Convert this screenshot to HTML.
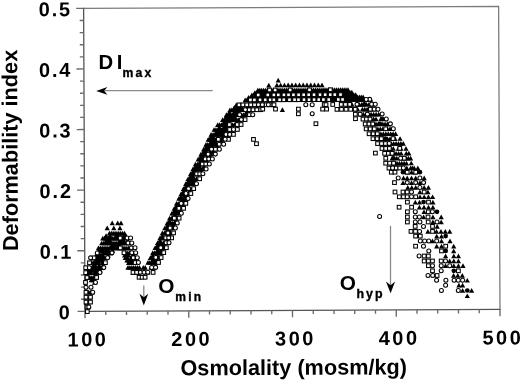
<!DOCTYPE html>
<html><head><meta charset="utf-8"><style>
html,body{margin:0;padding:0;background:#fff;}
svg{display:block;}
.o{fill:#fff;stroke:#000;stroke-width:1.05;}

</style></head><body>
<svg width="520" height="380" viewBox="0 0 520 380">
<g transform="rotate(-0.26 291.8 158.9)">
<path d="M84.3 7.4H499.3V310.4" fill="none" stroke="#7c7c7c" stroke-width="1.3"/>
<path d="M84.3 6.800000000000001V310.4H499.90000000000003" fill="none" stroke="#555" stroke-width="1.3"/>
<path d="M76.90 310.40H84.3 M80.30 298.28H84.3 M80.30 286.16H84.3 M80.30 274.04H84.3 M80.30 261.92H84.3 M76.90 249.80H84.3 M80.30 237.68H84.3 M80.30 225.56H84.3 M80.30 213.44H84.3 M80.30 201.32H84.3 M76.90 189.20H84.3 M80.30 177.08H84.3 M80.30 164.96H84.3 M80.30 152.84H84.3 M80.30 140.72H84.3 M76.90 128.60H84.3 M80.30 116.48H84.3 M80.30 104.36H84.3 M80.30 92.24H84.3 M80.30 80.12H84.3 M76.90 68.00H84.3 M80.30 55.88H84.3 M80.30 43.76H84.3 M80.30 31.64H84.3 M80.30 19.52H84.3 M76.90 7.40H84.3 M84.30 310.4V317.20 M105.05 310.4V314.20 M125.80 310.4V314.20 M146.55 310.4V314.20 M167.30 310.4V314.20 M188.05 310.4V317.20 M208.80 310.4V314.20 M229.55 310.4V314.20 M250.30 310.4V314.20 M271.05 310.4V314.20 M291.80 310.4V317.20 M312.55 310.4V314.20 M333.30 310.4V314.20 M354.05 310.4V314.20 M374.80 310.4V314.20 M395.55 310.4V317.20 M416.30 310.4V314.20 M437.05 310.4V314.20 M457.80 310.4V314.20 M478.55 310.4V314.20 M499.30 310.4V317.20" stroke="#6a6a6a" stroke-width="1.35" fill="none"/>
<text x="71.0" y="318.20" font-family="Liberation Sans, Arial, Helvetica, sans-serif" font-weight="bold" font-size="19.9" letter-spacing="1.9" text-anchor="end">0</text>
<text x="72.7" y="257.60" font-family="Liberation Sans, Arial, Helvetica, sans-serif" font-weight="bold" font-size="19.9" letter-spacing="1.9" text-anchor="end">0.1</text>
<text x="72.7" y="197.00" font-family="Liberation Sans, Arial, Helvetica, sans-serif" font-weight="bold" font-size="19.9" letter-spacing="1.9" text-anchor="end">0.2</text>
<text x="72.7" y="136.40" font-family="Liberation Sans, Arial, Helvetica, sans-serif" font-weight="bold" font-size="19.9" letter-spacing="1.9" text-anchor="end">0.3</text>
<text x="72.7" y="75.80" font-family="Liberation Sans, Arial, Helvetica, sans-serif" font-weight="bold" font-size="19.9" letter-spacing="1.9" text-anchor="end">0.4</text>
<text x="72.7" y="15.20" font-family="Liberation Sans, Arial, Helvetica, sans-serif" font-weight="bold" font-size="19.9" letter-spacing="1.9" text-anchor="end">0.5</text>
<text x="87.10" y="345.4" font-family="Liberation Sans, Arial, Helvetica, sans-serif" font-weight="bold" font-size="20" letter-spacing="2.5" text-anchor="middle">100</text>
<text x="190.85" y="345.4" font-family="Liberation Sans, Arial, Helvetica, sans-serif" font-weight="bold" font-size="20" letter-spacing="2.5" text-anchor="middle">200</text>
<text x="294.60" y="345.4" font-family="Liberation Sans, Arial, Helvetica, sans-serif" font-weight="bold" font-size="20" letter-spacing="2.5" text-anchor="middle">300</text>
<text x="398.35" y="345.4" font-family="Liberation Sans, Arial, Helvetica, sans-serif" font-weight="bold" font-size="20" letter-spacing="2.5" text-anchor="middle">400</text>
<text x="502.10" y="345.4" font-family="Liberation Sans, Arial, Helvetica, sans-serif" font-weight="bold" font-size="20" letter-spacing="2.5" text-anchor="middle">500</text>
<text x="179.5" y="374.8" font-family="Liberation Sans, Arial, Helvetica, sans-serif" font-weight="bold" font-size="21.7">Osmolality (mosm/kg)</text>
<text transform="translate(17.6 249.8) rotate(-90)" font-family="Liberation Sans, Arial, Helvetica, sans-serif" font-weight="bold" font-size="21.7">Deformability index</text>
</g>
<g fill="#000">
<path d="M86.02 309.30L88.62 304.60L91.22 309.30Z"/>
<path d="M83.94 304.39L86.54 299.69L89.14 304.39Z"/>
<path d="M85.70 304.39L88.30 299.69L90.89 304.39Z"/>
<path d="M83.94 299.48L86.54 294.78L89.14 299.48Z"/>
<path d="M87.45 299.46L90.05 294.76L92.65 299.46Z"/>
<path d="M85.95 294.56L88.55 289.86L91.15 294.56Z"/>
<path d="M87.69 294.55L90.29 289.85L92.89 294.55Z"/>
<path d="M89.43 294.54L92.03 289.84L94.63 294.54Z"/>
<path d="M91.90 284.71L94.50 280.01L97.10 284.71Z"/>
<path d="M85.55 279.82L88.15 275.12L90.75 279.82Z"/>
<path d="M87.42 279.81L90.02 275.11L92.62 279.81Z"/>
<path d="M89.30 279.80L91.90 275.10L94.50 279.80Z"/>
<path d="M91.17 279.80L93.77 275.10L96.37 279.80Z"/>
<path d="M93.04 279.79L95.64 275.09L98.24 279.79Z"/>
<path d="M84.80 274.91L87.40 270.21L90.00 274.91Z"/>
<path d="M86.65 274.90L89.25 270.20L91.85 274.90Z"/>
<path d="M88.50 274.90L91.10 270.20L93.70 274.90Z"/>
<path d="M92.19 274.88L94.79 270.18L97.39 274.88Z"/>
<path d="M94.03 274.87L96.63 270.17L99.23 274.87Z"/>
<path d="M95.88 274.86L98.48 270.16L101.08 274.86Z"/>
<path d="M85.27 270.00L87.87 265.30L90.47 270.00Z"/>
<path d="M87.29 269.99L89.89 265.29L92.49 269.99Z"/>
<path d="M89.31 269.98L91.91 265.28L94.51 269.98Z"/>
<path d="M91.32 269.97L93.92 265.27L96.52 269.97Z"/>
<path d="M93.34 269.96L95.94 265.26L98.54 269.96Z"/>
<path d="M95.36 269.95L97.96 265.25L100.56 269.95Z"/>
<path d="M97.37 269.94L99.97 265.24L102.57 269.94Z"/>
<path d="M99.39 269.93L101.99 265.23L104.59 269.93Z"/>
<path d="M88.81 265.07L91.41 260.37L94.01 265.07Z"/>
<path d="M90.58 265.06L93.18 260.36L95.78 265.06Z"/>
<path d="M92.35 265.05L94.95 260.35L97.55 265.05Z"/>
<path d="M94.12 265.04L96.72 260.34L99.32 265.04Z"/>
<path d="M95.89 265.04L98.49 260.34L101.09 265.04Z"/>
<path d="M99.44 265.02L102.04 260.32L104.64 265.02Z"/>
<path d="M101.21 265.01L103.81 260.31L106.41 265.01Z"/>
<path d="M90.04 260.15L92.64 255.45L95.24 260.15Z"/>
<path d="M91.93 260.14L94.53 255.44L97.13 260.14Z"/>
<path d="M93.83 260.13L96.43 255.43L99.03 260.13Z"/>
<path d="M95.72 260.12L98.32 255.42L100.92 260.12Z"/>
<path d="M97.62 260.12L100.22 255.42L102.82 260.12Z"/>
<path d="M99.51 260.11L102.11 255.41L104.71 260.11Z"/>
<path d="M101.41 260.10L104.01 255.40L106.61 260.10Z"/>
<path d="M103.30 260.09L105.90 255.39L108.50 260.09Z"/>
<path d="M96.46 255.21L99.06 250.51L101.66 255.21Z"/>
<path d="M100.29 255.19L102.89 250.49L105.49 255.19Z"/>
<path d="M102.20 255.18L104.80 250.48L107.40 255.18Z"/>
<path d="M104.11 255.17L106.71 250.47L109.31 255.17Z"/>
<path d="M106.02 255.16L108.62 250.46L111.22 255.16Z"/>
<path d="M107.93 255.16L110.53 250.46L113.13 255.16Z"/>
<path d="M95.80 250.30L98.40 245.60L101.00 250.30Z"/>
<path d="M97.69 250.29L100.29 245.59L102.89 250.29Z"/>
<path d="M99.59 250.28L102.19 245.58L104.79 250.28Z"/>
<path d="M101.48 250.27L104.08 245.57L106.68 250.27Z"/>
<path d="M103.38 250.26L105.98 245.56L108.58 250.26Z"/>
<path d="M105.27 250.25L107.87 245.55L110.47 250.25Z"/>
<path d="M107.17 250.25L109.77 245.55L112.37 250.25Z"/>
<path d="M109.06 250.24L111.66 245.54L114.26 250.24Z"/>
<path d="M110.96 250.23L113.56 245.53L116.16 250.23Z"/>
<path d="M112.85 250.22L115.45 245.52L118.05 250.22Z"/>
<path d="M114.75 250.21L117.35 245.51L119.95 250.21Z"/>
<path d="M116.64 250.20L119.24 245.50L121.84 250.20Z"/>
<path d="M118.54 250.19L121.14 245.49L123.74 250.19Z"/>
<path d="M120.43 250.19L123.03 245.49L125.63 250.19Z"/>
<path d="M122.32 250.18L124.92 245.48L127.52 250.18Z"/>
<path d="M124.22 250.17L126.82 245.47L129.42 250.17Z"/>
<path d="M126.11 250.16L128.71 245.46L131.31 250.16Z"/>
<path d="M128.01 250.15L130.61 245.45L133.21 250.15Z"/>
<path d="M99.10 245.37L101.70 240.67L104.30 245.37Z"/>
<path d="M100.99 245.36L103.59 240.66L106.19 245.36Z"/>
<path d="M102.88 245.35L105.48 240.65L108.08 245.35Z"/>
<path d="M104.78 245.34L107.38 240.64L109.98 245.34Z"/>
<path d="M106.67 245.34L109.27 240.64L111.87 245.34Z"/>
<path d="M108.56 245.33L111.16 240.63L113.76 245.33Z"/>
<path d="M110.45 245.32L113.05 240.62L115.65 245.32Z"/>
<path d="M112.34 245.31L114.94 240.61L117.54 245.31Z"/>
<path d="M114.24 245.30L116.84 240.60L119.44 245.30Z"/>
<path d="M116.13 245.29L118.73 240.59L121.33 245.29Z"/>
<path d="M118.02 245.28L120.62 240.58L123.22 245.28Z"/>
<path d="M119.91 245.28L122.51 240.58L125.11 245.28Z"/>
<path d="M121.80 245.27L124.40 240.57L127.00 245.27Z"/>
<path d="M123.70 245.26L126.30 240.56L128.90 245.26Z"/>
<path d="M125.59 245.25L128.19 240.55L130.79 245.25Z"/>
<path d="M100.20 240.45L102.80 235.75L105.40 240.45Z"/>
<path d="M102.08 240.44L104.68 235.74L107.28 240.44Z"/>
<path d="M103.96 240.43L106.56 235.73L109.16 240.43Z"/>
<path d="M105.85 240.43L108.45 235.73L111.05 240.43Z"/>
<path d="M107.73 240.42L110.33 235.72L112.93 240.42Z"/>
<path d="M109.61 240.41L112.21 235.71L114.81 240.41Z"/>
<path d="M111.49 240.40L114.09 235.70L116.69 240.40Z"/>
<path d="M113.37 240.39L115.97 235.69L118.57 240.39Z"/>
<path d="M115.25 240.38L117.85 235.68L120.45 240.38Z"/>
<path d="M117.14 240.38L119.74 235.68L122.34 240.38Z"/>
<path d="M119.02 240.37L121.62 235.67L124.22 240.37Z"/>
<path d="M120.90 240.36L123.50 235.66L126.10 240.36Z"/>
<path d="M122.78 240.35L125.38 235.65L127.98 240.35Z"/>
<path d="M124.66 240.34L127.26 235.64L129.86 240.34Z"/>
<path d="M106.80 235.51L109.40 230.81L112.00 235.51Z"/>
<path d="M108.69 235.50L111.29 230.80L113.89 235.50Z"/>
<path d="M110.58 235.49L113.18 230.79L115.78 235.49Z"/>
<path d="M112.46 235.48L115.06 230.78L117.66 235.48Z"/>
<path d="M114.35 235.47L116.95 230.77L119.55 235.47Z"/>
<path d="M116.24 235.47L118.84 230.77L121.44 235.47Z"/>
<path d="M118.12 235.46L120.72 230.76L123.32 235.46Z"/>
<path d="M120.01 235.45L122.61 230.75L125.21 235.45Z"/>
<path d="M121.90 235.44L124.50 230.74L127.10 235.44Z"/>
<path d="M88.65 282.26L91.25 277.56L93.85 282.26Z"/>
<path d="M90.56 282.26L93.16 277.56L95.76 282.26Z"/>
<path d="M85.18 277.37L87.78 272.67L90.38 277.37Z"/>
<path d="M92.60 277.33L95.20 272.63L97.80 277.33Z"/>
<path d="M85.04 272.45L87.64 267.75L90.24 272.45Z"/>
<path d="M86.84 272.45L89.44 267.75L92.04 272.45Z"/>
<path d="M88.64 272.44L91.24 267.74L93.84 272.44Z"/>
<path d="M90.44 272.43L93.04 267.73L95.64 272.43Z"/>
<path d="M92.24 272.42L94.84 267.72L97.44 272.42Z"/>
<path d="M94.04 272.41L96.64 267.71L99.24 272.41Z"/>
<path d="M95.84 272.41L98.44 267.71L101.04 272.41Z"/>
<path d="M97.64 272.40L100.23 267.70L102.83 272.40Z"/>
<path d="M90.83 267.52L93.43 262.82L96.03 267.52Z"/>
<path d="M92.72 267.51L95.32 262.81L97.92 267.51Z"/>
<path d="M96.51 267.49L99.11 262.79L101.71 267.49Z"/>
<path d="M100.30 267.47L102.90 262.77L105.50 267.47Z"/>
<path d="M93.09 262.59L95.69 257.89L98.29 262.59Z"/>
<path d="M94.92 262.58L97.52 257.88L100.12 262.58Z"/>
<path d="M96.76 262.58L99.36 257.88L101.96 262.58Z"/>
<path d="M98.59 262.57L101.19 257.87L103.79 262.57Z"/>
<path d="M100.42 262.56L103.02 257.86L105.62 262.56Z"/>
<path d="M93.25 257.68L95.85 252.98L98.45 257.68Z"/>
<path d="M95.02 257.67L97.62 252.97L100.22 257.67Z"/>
<path d="M96.78 257.66L99.38 252.96L101.98 257.66Z"/>
<path d="M98.55 257.65L101.15 252.95L103.75 257.65Z"/>
<path d="M100.32 257.65L102.92 252.95L105.52 257.65Z"/>
<path d="M105.62 257.62L108.22 252.92L110.81 257.62Z"/>
<path d="M96.13 252.75L98.73 248.05L101.33 252.75Z"/>
<path d="M98.12 252.74L100.72 248.04L103.32 252.74Z"/>
<path d="M100.10 252.73L102.70 248.03L105.30 252.73Z"/>
<path d="M102.09 252.73L104.69 248.03L107.29 252.73Z"/>
<path d="M104.07 252.72L106.67 248.02L109.27 252.72Z"/>
<path d="M106.06 252.71L108.66 248.01L111.26 252.71Z"/>
<path d="M110.03 252.69L112.63 247.99L115.23 252.69Z"/>
<path d="M109.19 247.78L111.79 243.08L114.39 247.78Z"/>
<path d="M111.15 247.77L113.75 243.07L116.35 247.77Z"/>
<path d="M113.10 247.76L115.70 243.06L118.30 247.76Z"/>
<path d="M115.06 247.75L117.66 243.05L120.26 247.75Z"/>
<path d="M117.02 247.75L119.62 243.05L122.22 247.75Z"/>
<path d="M103.57 242.89L106.17 238.19L108.77 242.89Z"/>
<path d="M105.53 242.88L108.13 238.18L110.73 242.88Z"/>
<path d="M107.49 242.88L110.09 238.18L112.69 242.88Z"/>
<path d="M117.29 242.83L119.89 238.13L122.49 242.83Z"/>
<path d="M119.25 242.82L121.85 238.12L124.45 242.82Z"/>
<path d="M121.21 242.81L123.81 238.11L126.41 242.81Z"/>
<path d="M125.13 242.80L127.73 238.10L130.33 242.80Z"/>
<path d="M103.50 237.98L106.10 233.28L108.70 237.98Z"/>
<path d="M107.46 237.96L110.06 233.26L112.66 237.96Z"/>
<path d="M113.39 237.94L115.99 233.24L118.59 237.94Z"/>
<path d="M115.37 237.93L117.97 233.23L120.57 237.93Z"/>
<path d="M121.30 237.90L123.90 233.20L126.50 237.90Z"/>
<path d="M123.28 237.89L125.88 233.19L128.48 237.89Z"/>
<path d="M104.60 230.21L107.20 225.51L109.80 230.21Z"/>
<path d="M111.20 230.18L113.80 225.48L116.40 230.18Z"/>
<path d="M117.30 230.16L119.90 225.46L122.50 230.16Z"/>
<path d="M109.60 225.29L112.20 220.59L114.80 225.29Z"/>
<path d="M115.10 225.27L117.70 220.57L120.30 225.27Z"/>
<path d="M118.40 225.25L121.00 220.55L123.60 225.25Z"/>
<path d="M123.27 255.09L125.87 250.39L128.47 255.09Z"/>
<path d="M125.14 255.08L127.74 250.38L130.34 255.08Z"/>
<path d="M127.02 255.07L129.62 250.37L132.22 255.07Z"/>
<path d="M128.89 255.06L131.49 250.36L134.09 255.06Z"/>
<path d="M130.76 255.05L133.36 250.35L135.96 255.05Z"/>
<path d="M122.70 260.00L125.30 255.30L127.90 260.00Z"/>
<path d="M124.62 259.99L127.22 255.29L129.82 259.99Z"/>
<path d="M128.46 259.98L131.06 255.28L133.66 259.98Z"/>
<path d="M132.30 259.96L134.90 255.26L137.50 259.96Z"/>
<path d="M126.00 264.90L128.60 260.20L131.20 264.90Z"/>
<path d="M127.96 264.89L130.56 260.19L133.16 264.89Z"/>
<path d="M129.92 264.88L132.52 260.18L135.12 264.88Z"/>
<path d="M131.88 264.87L134.48 260.17L137.08 264.87Z"/>
<path d="M125.40 269.82L128.00 265.12L130.60 269.82Z"/>
<path d="M127.31 269.81L129.91 265.11L132.51 269.81Z"/>
<path d="M129.22 269.80L131.82 265.10L134.42 269.80Z"/>
<path d="M131.13 269.79L133.73 265.09L136.33 269.79Z"/>
<path d="M133.04 269.78L135.64 265.08L138.24 269.78Z"/>
<path d="M134.95 269.77L137.55 265.07L140.15 269.77Z"/>
<path d="M136.86 269.76L139.46 265.06L142.06 269.76Z"/>
<path d="M140.69 269.75L143.29 265.05L145.89 269.75Z"/>
<path d="M142.60 269.74L145.20 265.04L147.80 269.74Z"/>
<path d="M148.33 269.71L150.93 265.01L153.53 269.71Z"/>
<path d="M150.24 269.70L152.84 265.00L155.44 269.70Z"/>
<path d="M130.40 274.71L133.00 270.01L135.60 274.71Z"/>
<path d="M132.87 274.70L135.47 270.00L138.07 274.70Z"/>
<path d="M135.33 274.68L137.93 269.98L140.53 274.68Z"/>
<path d="M145.20 274.64L147.80 269.94L150.40 274.64Z"/>
<path d="M122.05 257.55L124.65 252.85L127.25 257.55Z"/>
<path d="M123.95 257.54L126.55 252.84L129.15 257.54Z"/>
<path d="M125.84 257.53L128.44 252.83L131.04 257.53Z"/>
<path d="M129.63 257.51L132.23 252.81L134.83 257.51Z"/>
<path d="M131.53 257.51L134.13 252.81L136.73 257.51Z"/>
<path d="M124.35 262.45L126.95 257.75L129.55 262.45Z"/>
<path d="M126.09 262.44L128.69 257.74L131.29 262.44Z"/>
<path d="M127.84 262.44L130.44 257.74L133.04 262.44Z"/>
<path d="M129.58 262.43L132.18 257.73L134.78 262.43Z"/>
<path d="M131.33 262.42L133.93 257.72L136.53 262.42Z"/>
<path d="M133.07 262.41L135.67 257.71L138.27 262.41Z"/>
<path d="M145.39 264.81L147.99 260.11L150.59 264.81Z"/>
<path d="M147.28 264.80L149.88 260.10L152.48 264.80Z"/>
<path d="M149.18 264.80L151.78 260.10L154.38 264.80Z"/>
<path d="M151.07 264.79L153.67 260.09L156.27 264.79Z"/>
<path d="M152.96 264.78L155.56 260.08L158.16 264.78Z"/>
<path d="M149.94 262.34L152.54 257.64L155.14 262.34Z"/>
<path d="M152.09 262.33L154.69 257.63L157.29 262.33Z"/>
<path d="M154.24 262.32L156.84 257.62L159.44 262.32Z"/>
<path d="M147.78 259.89L150.38 255.19L152.98 259.89Z"/>
<path d="M149.72 259.88L152.32 255.18L154.92 259.88Z"/>
<path d="M151.65 259.87L154.25 255.17L156.85 259.87Z"/>
<path d="M153.59 259.86L156.19 255.16L158.79 259.86Z"/>
<path d="M155.52 259.85L158.12 255.15L160.72 259.85Z"/>
<path d="M150.18 257.42L152.78 252.72L155.38 257.42Z"/>
<path d="M154.59 257.40L157.19 252.70L159.79 257.40Z"/>
<path d="M150.17 254.97L152.77 250.27L155.37 254.97Z"/>
<path d="M152.15 254.96L154.75 250.26L157.35 254.96Z"/>
<path d="M154.13 254.95L156.73 250.25L159.33 254.95Z"/>
<path d="M156.10 254.94L158.70 250.24L161.30 254.94Z"/>
<path d="M158.08 254.93L160.68 250.23L163.28 254.93Z"/>
<path d="M154.83 252.49L157.43 247.79L160.03 252.49Z"/>
<path d="M157.10 252.48L159.70 247.78L162.30 252.48Z"/>
<path d="M159.36 252.47L161.96 247.77L164.56 252.47Z"/>
<path d="M152.56 250.04L155.16 245.34L157.76 250.04Z"/>
<path d="M154.58 250.03L157.18 245.33L159.78 250.03Z"/>
<path d="M156.60 250.02L159.20 245.32L161.80 250.02Z"/>
<path d="M158.62 250.01L161.22 245.31L163.82 250.01Z"/>
<path d="M160.64 250.01L163.24 245.31L165.84 250.01Z"/>
<path d="M154.96 247.57L157.56 242.87L160.16 247.57Z"/>
<path d="M157.28 247.56L159.88 242.86L162.48 247.56Z"/>
<path d="M159.60 247.55L162.20 242.85L164.80 247.55Z"/>
<path d="M161.92 247.54L164.52 242.84L167.12 247.54Z"/>
<path d="M154.95 245.12L157.55 240.42L160.15 245.12Z"/>
<path d="M157.02 245.11L159.62 240.41L162.22 245.11Z"/>
<path d="M159.08 245.10L161.68 240.40L164.28 245.10Z"/>
<path d="M161.14 245.09L163.74 240.39L166.34 245.09Z"/>
<path d="M163.20 245.08L165.80 240.38L168.40 245.08Z"/>
<path d="M157.35 242.65L159.95 237.95L162.55 242.65Z"/>
<path d="M164.48 242.62L167.08 237.92L169.68 242.62Z"/>
<path d="M157.35 240.19L159.95 235.49L162.55 240.19Z"/>
<path d="M159.45 240.18L162.05 235.48L164.65 240.18Z"/>
<path d="M161.55 240.18L164.15 235.48L166.75 240.18Z"/>
<path d="M163.66 240.17L166.26 235.47L168.86 240.17Z"/>
<path d="M165.76 240.16L168.36 235.46L170.96 240.16Z"/>
<path d="M159.75 237.73L162.35 233.03L164.95 237.73Z"/>
<path d="M164.44 237.71L167.04 233.01L169.64 237.71Z"/>
<path d="M166.78 237.70L169.38 233.00L171.98 237.70Z"/>
<path d="M159.75 235.27L162.35 230.57L164.95 235.27Z"/>
<path d="M161.77 235.26L164.37 230.56L166.97 235.26Z"/>
<path d="M163.78 235.25L166.38 230.55L168.98 235.25Z"/>
<path d="M165.79 235.24L168.39 230.54L170.99 235.24Z"/>
<path d="M167.81 235.23L170.41 230.53L173.01 235.23Z"/>
<path d="M164.37 232.79L166.97 228.09L169.57 232.79Z"/>
<path d="M166.59 232.78L169.19 228.08L171.79 232.78Z"/>
<path d="M162.16 230.35L164.76 225.65L167.36 230.35Z"/>
<path d="M164.07 230.34L166.67 225.64L169.27 230.34Z"/>
<path d="M165.99 230.33L168.59 225.63L171.19 230.33Z"/>
<path d="M167.91 230.32L170.51 225.62L173.11 230.32Z"/>
<path d="M169.82 230.31L172.42 225.61L175.02 230.31Z"/>
<path d="M164.56 227.88L167.16 223.18L169.76 227.88Z"/>
<path d="M170.83 227.85L173.43 223.15L176.03 227.85Z"/>
<path d="M164.56 225.42L167.16 220.72L169.76 225.42Z"/>
<path d="M166.38 225.41L168.98 220.71L171.58 225.41Z"/>
<path d="M168.20 225.41L170.80 220.71L173.40 225.41Z"/>
<path d="M170.02 225.40L172.62 220.70L175.22 225.40Z"/>
<path d="M171.84 225.39L174.44 220.69L177.04 225.39Z"/>
<path d="M166.97 222.96L169.57 218.26L172.17 222.96Z"/>
<path d="M172.84 222.93L175.44 218.23L178.04 222.93Z"/>
<path d="M166.97 220.50L169.57 215.80L172.17 220.50Z"/>
<path d="M168.69 220.49L171.29 215.79L173.89 220.49Z"/>
<path d="M170.41 220.48L173.01 215.78L175.61 220.48Z"/>
<path d="M172.13 220.48L174.73 215.78L177.33 220.48Z"/>
<path d="M173.85 220.47L176.45 215.77L179.05 220.47Z"/>
<path d="M172.15 218.02L174.75 213.32L177.35 218.02Z"/>
<path d="M169.30 215.58L171.90 210.88L174.50 215.58Z"/>
<path d="M171.00 215.57L173.60 210.87L176.20 215.57Z"/>
<path d="M172.69 215.56L175.29 210.86L177.89 215.56Z"/>
<path d="M174.39 215.55L176.99 210.85L179.59 215.55Z"/>
<path d="M176.09 215.54L178.69 210.84L181.29 215.54Z"/>
<path d="M171.66 213.11L174.26 208.41L176.86 213.11Z"/>
<path d="M174.44 213.10L177.04 208.40L179.64 213.10Z"/>
<path d="M177.22 213.08L179.82 208.38L182.42 213.08Z"/>
<path d="M171.62 210.65L174.22 205.95L176.82 210.65Z"/>
<path d="M173.30 210.64L175.90 205.94L178.50 210.64Z"/>
<path d="M174.99 210.64L177.59 205.94L180.19 210.64Z"/>
<path d="M176.67 210.63L179.27 205.93L181.87 210.63Z"/>
<path d="M178.36 210.62L180.96 205.92L183.56 210.62Z"/>
<path d="M173.98 208.18L176.58 203.48L179.18 208.18Z"/>
<path d="M176.73 208.17L179.33 203.47L181.93 208.17Z"/>
<path d="M179.49 208.16L182.09 203.46L184.69 208.16Z"/>
<path d="M173.94 205.73L176.54 201.03L179.14 205.73Z"/>
<path d="M175.61 205.72L178.21 201.02L180.81 205.72Z"/>
<path d="M177.28 205.71L179.88 201.01L182.48 205.71Z"/>
<path d="M178.95 205.71L181.55 201.01L184.15 205.71Z"/>
<path d="M180.62 205.70L183.22 201.00L185.82 205.70Z"/>
<path d="M179.03 203.25L181.63 198.55L184.23 203.25Z"/>
<path d="M181.75 203.24L184.35 198.54L186.95 203.24Z"/>
<path d="M176.26 200.81L178.86 196.11L181.46 200.81Z"/>
<path d="M178.47 200.80L181.07 196.10L183.67 200.80Z"/>
<path d="M180.68 200.79L183.28 196.09L185.88 200.79Z"/>
<path d="M182.89 200.78L185.49 196.08L188.09 200.78Z"/>
<path d="M178.61 198.34L181.21 193.64L183.81 198.34Z"/>
<path d="M181.41 198.33L184.01 193.63L186.61 198.33Z"/>
<path d="M184.20 198.31L186.80 193.61L189.40 198.31Z"/>
<path d="M178.57 195.88L181.17 191.18L183.77 195.88Z"/>
<path d="M180.31 195.87L182.91 191.17L185.51 195.87Z"/>
<path d="M182.04 195.87L184.64 191.17L187.24 195.87Z"/>
<path d="M183.78 195.86L186.38 191.16L188.98 195.86Z"/>
<path d="M185.52 195.85L188.12 191.15L190.72 195.85Z"/>
<path d="M180.92 193.41L183.52 188.71L186.12 193.41Z"/>
<path d="M186.86 193.39L189.46 188.69L192.06 193.39Z"/>
<path d="M180.87 190.96L183.47 186.26L186.07 190.96Z"/>
<path d="M182.71 190.95L185.31 186.25L187.91 190.95Z"/>
<path d="M184.54 190.94L187.14 186.24L189.74 190.94Z"/>
<path d="M186.37 190.93L188.97 186.23L191.57 190.93Z"/>
<path d="M188.20 190.93L190.80 186.23L193.40 190.93Z"/>
<path d="M183.23 188.49L185.83 183.79L188.43 188.49Z"/>
<path d="M185.33 188.48L187.93 183.78L190.53 188.48Z"/>
<path d="M183.18 186.03L185.78 181.33L188.38 186.03Z"/>
<path d="M185.11 186.03L187.71 181.33L190.31 186.03Z"/>
<path d="M187.03 186.02L189.63 181.32L192.23 186.02Z"/>
<path d="M188.95 186.01L191.55 181.31L194.15 186.01Z"/>
<path d="M190.88 186.00L193.48 181.30L196.08 186.00Z"/>
<path d="M185.54 183.57L188.14 178.87L190.74 183.57Z"/>
<path d="M187.80 183.56L190.40 178.86L193.00 183.56Z"/>
<path d="M190.07 183.55L192.67 178.85L195.27 183.55Z"/>
<path d="M192.34 183.54L194.94 178.84L197.54 183.54Z"/>
<path d="M185.49 181.11L188.09 176.41L190.69 181.11Z"/>
<path d="M187.57 181.10L190.17 176.40L192.77 181.10Z"/>
<path d="M189.65 181.09L192.25 176.39L194.85 181.09Z"/>
<path d="M191.73 181.08L194.33 176.38L196.93 181.08Z"/>
<path d="M193.81 181.07L196.41 176.37L199.01 181.07Z"/>
<path d="M187.91 178.64L190.51 173.94L193.11 178.64Z"/>
<path d="M190.38 178.63L192.98 173.93L195.58 178.63Z"/>
<path d="M187.93 176.19L190.53 171.49L193.13 176.19Z"/>
<path d="M189.70 176.18L192.30 171.48L194.90 176.18Z"/>
<path d="M191.48 176.17L194.08 171.47L196.68 176.17Z"/>
<path d="M193.26 176.16L195.86 171.46L198.46 176.16Z"/>
<path d="M195.04 176.16L197.64 171.46L200.24 176.16Z"/>
<path d="M196.82 176.15L199.42 171.45L202.02 176.15Z"/>
<path d="M190.35 173.72L192.95 169.02L195.55 173.72Z"/>
<path d="M193.01 173.71L195.61 169.01L198.21 173.71Z"/>
<path d="M198.32 173.68L200.92 168.98L203.52 173.68Z"/>
<path d="M190.38 171.26L192.98 166.56L195.58 171.26Z"/>
<path d="M192.27 171.26L194.87 166.56L197.47 171.26Z"/>
<path d="M194.16 171.25L196.76 166.55L199.36 171.25Z"/>
<path d="M196.05 171.24L198.65 166.54L201.25 171.24Z"/>
<path d="M197.94 171.23L200.54 166.53L203.14 171.23Z"/>
<path d="M199.83 171.22L202.43 166.52L205.03 171.22Z"/>
<path d="M192.81 168.80L195.41 164.10L198.01 168.80Z"/>
<path d="M194.94 168.79L197.54 164.09L200.14 168.79Z"/>
<path d="M197.07 168.78L199.67 164.08L202.27 168.78Z"/>
<path d="M201.33 168.76L203.93 164.06L206.53 168.76Z"/>
<path d="M192.84 166.34L195.44 161.64L198.04 166.34Z"/>
<path d="M194.84 166.33L197.44 161.63L200.04 166.33Z"/>
<path d="M196.84 166.32L199.44 161.62L202.04 166.32Z"/>
<path d="M198.84 166.31L201.44 161.61L204.04 166.31Z"/>
<path d="M200.84 166.30L203.44 161.60L206.04 166.30Z"/>
<path d="M202.84 166.29L205.44 161.59L208.04 166.29Z"/>
<path d="M197.62 163.86L200.22 159.16L202.82 163.86Z"/>
<path d="M199.85 163.85L202.45 159.15L205.05 163.85Z"/>
<path d="M202.07 163.84L204.67 159.14L207.27 163.84Z"/>
<path d="M204.30 163.83L206.90 159.13L209.50 163.83Z"/>
<path d="M195.55 161.41L198.15 156.71L200.75 161.41Z"/>
<path d="M197.59 161.41L200.19 156.71L202.79 161.41Z"/>
<path d="M199.64 161.40L202.24 156.70L204.84 161.40Z"/>
<path d="M201.68 161.39L204.28 156.69L206.88 161.39Z"/>
<path d="M203.72 161.38L206.32 156.68L208.92 161.38Z"/>
<path d="M205.77 161.37L208.37 156.67L210.97 161.37Z"/>
<path d="M198.13 158.95L200.73 154.25L203.33 158.95Z"/>
<path d="M200.40 158.94L203.00 154.24L205.60 158.94Z"/>
<path d="M204.95 158.92L207.55 154.22L210.15 158.92Z"/>
<path d="M207.22 158.91L209.82 154.21L212.42 158.91Z"/>
<path d="M198.31 156.49L200.91 151.79L203.51 156.49Z"/>
<path d="M200.38 156.48L202.98 151.78L205.58 156.48Z"/>
<path d="M202.46 156.47L205.06 151.77L207.66 156.47Z"/>
<path d="M204.53 156.46L207.13 151.76L209.73 156.46Z"/>
<path d="M206.61 156.45L209.21 151.75L211.81 156.45Z"/>
<path d="M208.68 156.44L211.28 151.74L213.88 156.44Z"/>
<path d="M200.88 154.02L203.48 149.32L206.08 154.02Z"/>
<path d="M203.29 154.01L205.89 149.31L208.49 154.01Z"/>
<path d="M208.12 153.99L210.72 149.29L213.32 153.99Z"/>
<path d="M210.53 153.98L213.13 149.28L215.73 153.98Z"/>
<path d="M201.06 151.56L203.66 146.86L206.26 151.56Z"/>
<path d="M202.95 151.56L205.55 146.86L208.15 151.56Z"/>
<path d="M204.83 151.55L207.43 146.85L210.03 151.55Z"/>
<path d="M206.72 151.54L209.32 146.84L211.92 151.54Z"/>
<path d="M208.60 151.53L211.20 146.83L213.80 151.53Z"/>
<path d="M210.49 151.52L213.09 146.82L215.69 151.52Z"/>
<path d="M212.37 151.51L214.97 146.81L217.57 151.51Z"/>
<path d="M203.42 149.10L206.02 144.40L208.62 149.10Z"/>
<path d="M205.58 149.09L208.18 144.39L210.78 149.09Z"/>
<path d="M207.74 149.08L210.34 144.38L212.94 149.08Z"/>
<path d="M209.91 149.07L212.51 144.37L215.11 149.07Z"/>
<path d="M214.23 149.05L216.83 144.35L219.43 149.05Z"/>
<path d="M203.38 146.64L205.98 141.94L208.58 146.64Z"/>
<path d="M205.19 146.63L207.79 141.93L210.39 146.63Z"/>
<path d="M207.01 146.62L209.61 141.92L212.21 146.62Z"/>
<path d="M208.82 146.62L211.42 141.92L214.02 146.62Z"/>
<path d="M210.64 146.61L213.24 141.91L215.84 146.61Z"/>
<path d="M212.46 146.60L215.06 141.90L217.66 146.60Z"/>
<path d="M214.27 146.59L216.87 141.89L219.47 146.59Z"/>
<path d="M216.09 146.58L218.69 141.88L221.29 146.58Z"/>
<path d="M208.18 144.16L210.78 139.46L213.38 144.16Z"/>
<path d="M210.68 144.15L213.28 139.45L215.88 144.15Z"/>
<path d="M213.17 144.14L215.77 139.44L218.37 144.14Z"/>
<path d="M218.15 144.12L220.75 139.42L223.35 144.12Z"/>
<path d="M205.61 141.72L208.21 137.02L210.81 141.72Z"/>
<path d="M207.43 141.71L210.03 137.01L212.63 141.71Z"/>
<path d="M209.26 141.70L211.86 137.00L214.46 141.70Z"/>
<path d="M211.08 141.69L213.68 136.99L216.28 141.69Z"/>
<path d="M212.91 141.68L215.51 136.98L218.11 141.68Z"/>
<path d="M214.73 141.68L217.33 136.98L219.93 141.68Z"/>
<path d="M216.56 141.67L219.16 136.97L221.76 141.67Z"/>
<path d="M218.38 141.66L220.98 136.96L223.58 141.66Z"/>
<path d="M220.21 141.65L222.81 136.95L225.41 141.65Z"/>
<path d="M208.25 139.25L210.85 134.55L213.45 139.25Z"/>
<path d="M210.60 139.24L213.20 134.54L215.80 139.24Z"/>
<path d="M220.04 139.20L222.64 134.50L225.24 139.20Z"/>
<path d="M208.48 136.79L211.08 132.09L213.68 136.79Z"/>
<path d="M210.50 136.78L213.10 132.08L215.70 136.78Z"/>
<path d="M212.51 136.77L215.11 132.07L217.71 136.77Z"/>
<path d="M214.52 136.76L217.12 132.06L219.72 136.76Z"/>
<path d="M216.53 136.75L219.13 132.05L221.73 136.75Z"/>
<path d="M218.55 136.75L221.15 132.05L223.75 136.75Z"/>
<path d="M220.56 136.74L223.16 132.04L225.76 136.74Z"/>
<path d="M222.57 136.73L225.17 132.03L227.77 136.73Z"/>
<path d="M224.58 136.72L227.18 132.02L229.78 136.72Z"/>
<path d="M213.73 134.31L216.33 129.61L218.93 134.31Z"/>
<path d="M216.27 134.30L218.87 129.60L221.47 134.30Z"/>
<path d="M218.80 134.29L221.40 129.59L224.00 134.29Z"/>
<path d="M221.34 134.28L223.94 129.58L226.54 134.28Z"/>
<path d="M226.42 134.25L229.02 129.55L231.62 134.25Z"/>
<path d="M211.49 131.86L214.09 127.16L216.69 131.86Z"/>
<path d="M213.35 131.86L215.95 127.16L218.55 131.86Z"/>
<path d="M215.22 131.85L217.82 127.15L220.42 131.85Z"/>
<path d="M217.08 131.84L219.68 127.14L222.28 131.84Z"/>
<path d="M218.94 131.83L221.54 127.13L224.14 131.83Z"/>
<path d="M220.81 131.82L223.41 127.12L226.01 131.82Z"/>
<path d="M222.67 131.81L225.27 127.11L227.87 131.81Z"/>
<path d="M224.53 131.81L227.13 127.11L229.73 131.81Z"/>
<path d="M226.40 131.80L229.00 127.10L231.60 131.80Z"/>
<path d="M228.26 131.79L230.86 127.09L233.46 131.79Z"/>
<path d="M216.73 129.38L219.33 124.68L221.93 129.38Z"/>
<path d="M221.19 129.36L223.79 124.66L226.39 129.36Z"/>
<path d="M223.42 129.35L226.02 124.65L228.62 129.35Z"/>
<path d="M225.65 129.34L228.25 124.64L230.85 129.34Z"/>
<path d="M227.88 129.33L230.48 124.63L233.08 129.33Z"/>
<path d="M215.10 126.94L217.70 122.24L220.30 126.94Z"/>
<path d="M216.97 126.93L219.57 122.23L222.17 126.93Z"/>
<path d="M218.85 126.92L221.45 122.22L224.05 126.92Z"/>
<path d="M220.72 126.91L223.32 122.21L225.92 126.91Z"/>
<path d="M222.59 126.90L225.19 122.20L227.79 126.90Z"/>
<path d="M224.46 126.89L227.06 122.19L229.66 126.89Z"/>
<path d="M226.33 126.88L228.93 122.18L231.53 126.88Z"/>
<path d="M228.21 126.88L230.81 122.18L233.41 126.88Z"/>
<path d="M230.08 126.87L232.68 122.17L235.28 126.87Z"/>
<path d="M231.95 126.86L234.55 122.16L237.15 126.86Z"/>
<path d="M221.32 124.45L223.92 119.75L226.52 124.45Z"/>
<path d="M223.87 124.44L226.47 119.74L229.07 124.44Z"/>
<path d="M226.42 124.43L229.02 119.73L231.62 124.43Z"/>
<path d="M234.07 124.39L236.67 119.69L239.27 124.39Z"/>
<path d="M220.04 122.00L222.64 117.30L225.24 122.00Z"/>
<path d="M222.06 121.99L224.66 117.29L227.26 121.99Z"/>
<path d="M224.07 121.98L226.67 117.28L229.27 121.98Z"/>
<path d="M226.09 121.97L228.69 117.27L231.29 121.97Z"/>
<path d="M228.11 121.96L230.71 117.26L233.31 121.96Z"/>
<path d="M230.13 121.95L232.73 117.25L235.33 121.95Z"/>
<path d="M232.15 121.95L234.75 117.25L237.35 121.95Z"/>
<path d="M234.16 121.94L236.76 117.24L239.36 121.94Z"/>
<path d="M236.18 121.93L238.78 117.23L241.38 121.93Z"/>
<path d="M223.15 119.53L225.75 114.83L228.35 119.53Z"/>
<path d="M225.48 119.52L228.08 114.82L230.68 119.52Z"/>
<path d="M227.82 119.51L230.42 114.81L233.02 119.51Z"/>
<path d="M230.15 119.50L232.75 114.80L235.35 119.50Z"/>
<path d="M232.49 119.49L235.09 114.79L237.69 119.49Z"/>
<path d="M239.49 119.46L242.09 114.76L244.69 119.46Z"/>
<path d="M223.86 117.07L226.46 112.37L229.06 117.07Z"/>
<path d="M225.75 117.06L228.35 112.36L230.95 117.06Z"/>
<path d="M227.65 117.05L230.25 112.35L232.85 117.05Z"/>
<path d="M229.54 117.04L232.14 112.34L234.74 117.04Z"/>
<path d="M231.43 117.04L234.03 112.34L236.63 117.04Z"/>
<path d="M233.33 117.03L235.93 112.33L238.53 117.03Z"/>
<path d="M235.22 117.02L237.82 112.32L240.42 117.02Z"/>
<path d="M237.11 117.01L239.71 112.31L242.31 117.01Z"/>
<path d="M239.00 117.00L241.60 112.30L244.20 117.00Z"/>
<path d="M240.90 116.99L243.50 112.29L246.10 116.99Z"/>
<path d="M242.79 116.98L245.39 112.28L247.99 116.98Z"/>
<path d="M226.79 114.60L229.39 109.90L231.99 114.60Z"/>
<path d="M231.63 114.58L234.23 109.88L236.83 114.58Z"/>
<path d="M234.05 114.57L236.65 109.87L239.25 114.57Z"/>
<path d="M236.47 114.56L239.07 109.86L241.67 114.56Z"/>
<path d="M243.73 114.52L246.33 109.82L248.93 114.52Z"/>
<path d="M246.15 114.51L248.75 109.81L251.35 114.51Z"/>
<path d="M227.31 112.14L229.91 107.44L232.51 112.14Z"/>
<path d="M229.16 112.13L231.76 107.43L234.36 112.13Z"/>
<path d="M231.01 112.12L233.61 107.42L236.21 112.12Z"/>
<path d="M232.86 112.12L235.46 107.42L238.06 112.12Z"/>
<path d="M234.71 112.11L237.31 107.41L239.91 112.11Z"/>
<path d="M236.56 112.10L239.16 107.40L241.76 112.10Z"/>
<path d="M238.41 112.09L241.01 107.39L243.61 112.09Z"/>
<path d="M240.26 112.08L242.86 107.38L245.46 112.08Z"/>
<path d="M242.11 112.07L244.71 107.37L247.31 112.07Z"/>
<path d="M243.96 112.07L246.56 107.37L249.16 112.07Z"/>
<path d="M245.80 112.06L248.40 107.36L251.00 112.06Z"/>
<path d="M247.65 112.05L250.25 107.35L252.85 112.05Z"/>
<path d="M249.50 112.04L252.10 107.34L254.70 112.04Z"/>
<path d="M231.67 109.67L234.27 104.97L236.87 109.67Z"/>
<path d="M234.19 109.65L236.79 104.95L239.39 109.65Z"/>
<path d="M236.72 109.64L239.32 104.94L241.92 109.64Z"/>
<path d="M239.25 109.63L241.85 104.93L244.45 109.63Z"/>
<path d="M244.31 109.61L246.91 104.91L249.51 109.61Z"/>
<path d="M246.83 109.60L249.43 104.90L252.03 109.60Z"/>
<path d="M254.42 109.56L257.02 104.86L259.62 109.56Z"/>
<path d="M233.62 107.20L236.22 102.50L238.82 107.20Z"/>
<path d="M235.46 107.19L238.06 102.49L240.66 107.19Z"/>
<path d="M237.29 107.18L239.89 102.48L242.49 107.18Z"/>
<path d="M239.13 107.18L241.73 102.48L244.33 107.18Z"/>
<path d="M240.97 107.17L243.57 102.47L246.17 107.17Z"/>
<path d="M242.80 107.16L245.40 102.46L248.00 107.16Z"/>
<path d="M244.64 107.15L247.24 102.45L249.84 107.15Z"/>
<path d="M246.48 107.14L249.08 102.44L251.68 107.14Z"/>
<path d="M248.31 107.13L250.91 102.43L253.51 107.13Z"/>
<path d="M250.15 107.13L252.75 102.43L255.35 107.13Z"/>
<path d="M251.99 107.12L254.59 102.42L257.19 107.12Z"/>
<path d="M253.82 107.11L256.42 102.41L259.02 107.11Z"/>
<path d="M255.66 107.10L258.26 102.40L260.86 107.10Z"/>
<path d="M257.50 107.09L260.10 102.39L262.70 107.09Z"/>
<path d="M259.33 107.08L261.93 102.38L264.53 107.08Z"/>
<path d="M242.60 102.25L245.20 97.55L247.80 102.25Z"/>
<path d="M244.50 102.24L247.10 97.54L249.70 102.24Z"/>
<path d="M246.40 102.23L249.00 97.53L251.60 102.23Z"/>
<path d="M248.30 102.22L250.90 97.52L253.50 102.22Z"/>
<path d="M250.21 102.21L252.81 97.51L255.41 102.21Z"/>
<path d="M252.11 102.20L254.71 97.50L257.31 102.20Z"/>
<path d="M254.01 102.20L256.61 97.50L259.21 102.20Z"/>
<path d="M255.91 102.19L258.51 97.49L261.11 102.19Z"/>
<path d="M257.81 102.18L260.41 97.48L263.01 102.18Z"/>
<path d="M259.71 102.17L262.31 97.47L264.91 102.17Z"/>
<path d="M261.62 102.16L264.22 97.46L266.82 102.16Z"/>
<path d="M263.52 102.15L266.12 97.45L268.72 102.15Z"/>
<path d="M265.42 102.14L268.02 97.44L270.62 102.14Z"/>
<path d="M267.32 102.14L269.92 97.44L272.52 102.14Z"/>
<path d="M269.22 102.13L271.82 97.43L274.42 102.13Z"/>
<path d="M271.12 102.12L273.72 97.42L276.32 102.12Z"/>
<path d="M273.02 102.11L275.62 97.41L278.22 102.11Z"/>
<path d="M274.93 102.10L277.53 97.40L280.13 102.10Z"/>
<path d="M276.83 102.09L279.43 97.39L282.03 102.09Z"/>
<path d="M278.73 102.08L281.33 97.38L283.93 102.08Z"/>
<path d="M280.63 102.08L283.23 97.38L285.83 102.08Z"/>
<path d="M282.53 102.07L285.13 97.37L287.73 102.07Z"/>
<path d="M284.43 102.06L287.03 97.36L289.63 102.06Z"/>
<path d="M286.33 102.05L288.93 97.35L291.53 102.05Z"/>
<path d="M288.24 102.04L290.84 97.34L293.44 102.04Z"/>
<path d="M290.14 102.03L292.74 97.33L295.34 102.03Z"/>
<path d="M292.04 102.02L294.64 97.32L297.24 102.02Z"/>
<path d="M293.94 102.02L296.54 97.32L299.14 102.02Z"/>
<path d="M295.84 102.01L298.44 97.31L301.04 102.01Z"/>
<path d="M297.74 102.00L300.34 97.30L302.94 102.00Z"/>
<path d="M299.65 101.99L302.25 97.29L304.85 101.99Z"/>
<path d="M301.55 101.98L304.15 97.28L306.75 101.98Z"/>
<path d="M303.45 101.97L306.05 97.27L308.65 101.97Z"/>
<path d="M305.35 101.96L307.95 97.26L310.55 101.96Z"/>
<path d="M307.25 101.96L309.85 97.26L312.45 101.96Z"/>
<path d="M309.15 101.95L311.75 97.25L314.35 101.95Z"/>
<path d="M311.05 101.94L313.65 97.24L316.25 101.94Z"/>
<path d="M312.96 101.93L315.56 97.23L318.16 101.93Z"/>
<path d="M314.86 101.92L317.46 97.22L320.06 101.92Z"/>
<path d="M316.76 101.91L319.36 97.21L321.96 101.91Z"/>
<path d="M318.66 101.90L321.26 97.20L323.86 101.90Z"/>
<path d="M320.56 101.90L323.16 97.20L325.76 101.90Z"/>
<path d="M322.46 101.89L325.06 97.19L327.66 101.89Z"/>
<path d="M324.37 101.88L326.97 97.18L329.57 101.88Z"/>
<path d="M326.27 101.87L328.87 97.17L331.47 101.87Z"/>
<path d="M328.17 101.86L330.77 97.16L333.37 101.86Z"/>
<path d="M330.07 101.85L332.67 97.15L335.27 101.85Z"/>
<path d="M331.97 101.84L334.57 97.14L337.17 101.84Z"/>
<path d="M333.87 101.84L336.47 97.14L339.07 101.84Z"/>
<path d="M335.77 101.83L338.37 97.13L340.97 101.83Z"/>
<path d="M337.68 101.82L340.28 97.12L342.88 101.82Z"/>
<path d="M339.58 101.81L342.18 97.11L344.78 101.81Z"/>
<path d="M341.48 101.80L344.08 97.10L346.68 101.80Z"/>
<path d="M343.38 101.79L345.98 97.09L348.58 101.79Z"/>
<path d="M345.28 101.78L347.88 97.08L350.48 101.78Z"/>
<path d="M347.18 101.78L349.78 97.08L352.38 101.78Z"/>
<path d="M349.08 101.77L351.68 97.07L354.28 101.77Z"/>
<path d="M350.99 101.76L353.59 97.06L356.19 101.76Z"/>
<path d="M352.89 101.75L355.49 97.05L358.09 101.75Z"/>
<path d="M354.79 101.74L357.39 97.04L359.99 101.74Z"/>
<path d="M356.69 101.73L359.29 97.03L361.89 101.73Z"/>
<path d="M358.59 101.72L361.19 97.02L363.79 101.72Z"/>
<path d="M360.49 101.72L363.09 97.02L365.69 101.72Z"/>
<path d="M362.40 101.71L365.00 97.01L367.60 101.71Z"/>
<path d="M364.30 101.70L366.90 97.00L369.50 101.70Z"/>
<path d="M366.20 101.69L368.80 96.99L371.40 101.69Z"/>
<path d="M368.10 101.68L370.70 96.98L373.30 101.68Z"/>
<path d="M245.95 99.78L248.55 95.08L251.15 99.78Z"/>
<path d="M247.86 99.77L250.46 95.07L253.06 99.77Z"/>
<path d="M249.77 99.76L252.37 95.06L254.97 99.76Z"/>
<path d="M251.68 99.75L254.28 95.05L256.88 99.75Z"/>
<path d="M253.59 99.74L256.19 95.04L258.79 99.74Z"/>
<path d="M255.50 99.73L258.10 95.03L260.70 99.73Z"/>
<path d="M257.41 99.72L260.01 95.02L262.61 99.72Z"/>
<path d="M259.32 99.71L261.92 95.01L264.52 99.71Z"/>
<path d="M261.23 99.71L263.83 95.01L266.43 99.71Z"/>
<path d="M263.14 99.70L265.74 95.00L268.34 99.70Z"/>
<path d="M265.05 99.69L267.65 94.99L270.25 99.69Z"/>
<path d="M266.96 99.68L269.56 94.98L272.16 99.68Z"/>
<path d="M268.87 99.67L271.47 94.97L274.07 99.67Z"/>
<path d="M270.78 99.66L273.38 94.96L275.98 99.66Z"/>
<path d="M272.69 99.65L275.29 94.95L277.89 99.65Z"/>
<path d="M274.60 99.65L277.20 94.95L279.80 99.65Z"/>
<path d="M276.51 99.64L279.11 94.94L281.71 99.64Z"/>
<path d="M278.42 99.63L281.02 94.93L283.62 99.63Z"/>
<path d="M280.33 99.62L282.93 94.92L285.53 99.62Z"/>
<path d="M282.24 99.61L284.84 94.91L287.44 99.61Z"/>
<path d="M284.15 99.60L286.75 94.90L289.35 99.60Z"/>
<path d="M286.06 99.59L288.66 94.89L291.26 99.59Z"/>
<path d="M287.97 99.59L290.57 94.89L293.17 99.59Z"/>
<path d="M289.88 99.58L292.48 94.88L295.08 99.58Z"/>
<path d="M291.79 99.57L294.39 94.87L296.99 99.57Z"/>
<path d="M293.70 99.56L296.30 94.86L298.90 99.56Z"/>
<path d="M295.61 99.55L298.21 94.85L300.81 99.55Z"/>
<path d="M297.52 99.54L300.12 94.84L302.72 99.54Z"/>
<path d="M299.43 99.53L302.03 94.83L304.63 99.53Z"/>
<path d="M301.34 99.53L303.94 94.83L306.54 99.53Z"/>
<path d="M303.25 99.52L305.85 94.82L308.45 99.52Z"/>
<path d="M305.16 99.51L307.76 94.81L310.36 99.51Z"/>
<path d="M307.07 99.50L309.67 94.80L312.27 99.50Z"/>
<path d="M308.98 99.49L311.58 94.79L314.18 99.49Z"/>
<path d="M310.89 99.48L313.49 94.78L316.09 99.48Z"/>
<path d="M312.80 99.47L315.40 94.77L318.00 99.47Z"/>
<path d="M314.71 99.47L317.31 94.77L319.91 99.47Z"/>
<path d="M316.62 99.46L319.22 94.76L321.82 99.46Z"/>
<path d="M318.53 99.45L321.13 94.75L323.73 99.45Z"/>
<path d="M320.44 99.44L323.04 94.74L325.64 99.44Z"/>
<path d="M322.35 99.43L324.95 94.73L327.55 99.43Z"/>
<path d="M324.26 99.42L326.86 94.72L329.46 99.42Z"/>
<path d="M326.17 99.41L328.77 94.71L331.37 99.41Z"/>
<path d="M328.08 99.41L330.68 94.71L333.28 99.41Z"/>
<path d="M329.99 99.40L332.59 94.70L335.19 99.40Z"/>
<path d="M331.90 99.39L334.50 94.69L337.10 99.39Z"/>
<path d="M333.81 99.38L336.41 94.68L339.01 99.38Z"/>
<path d="M335.72 99.37L338.32 94.67L340.92 99.37Z"/>
<path d="M337.63 99.36L340.23 94.66L342.83 99.36Z"/>
<path d="M339.54 99.35L342.14 94.65L344.74 99.35Z"/>
<path d="M341.45 99.35L344.05 94.65L346.65 99.35Z"/>
<path d="M343.36 99.34L345.96 94.64L348.56 99.34Z"/>
<path d="M345.27 99.33L347.87 94.63L350.47 99.33Z"/>
<path d="M347.18 99.32L349.78 94.62L352.38 99.32Z"/>
<path d="M349.09 99.31L351.69 94.61L354.29 99.31Z"/>
<path d="M351.00 99.30L353.60 94.60L356.20 99.30Z"/>
<path d="M352.91 99.29L355.51 94.59L358.11 99.29Z"/>
<path d="M354.82 99.29L357.42 94.59L360.02 99.29Z"/>
<path d="M356.73 99.28L359.33 94.58L361.93 99.28Z"/>
<path d="M358.64 99.27L361.24 94.57L363.84 99.27Z"/>
<path d="M360.55 99.26L363.15 94.56L365.75 99.26Z"/>
<path d="M249.30 97.30L251.90 92.60L254.50 97.30Z"/>
<path d="M251.19 97.29L253.79 92.59L256.39 97.29Z"/>
<path d="M253.07 97.29L255.67 92.59L258.27 97.29Z"/>
<path d="M254.96 97.28L257.56 92.58L260.16 97.28Z"/>
<path d="M256.84 97.27L259.44 92.57L262.04 97.27Z"/>
<path d="M258.73 97.26L261.33 92.56L263.93 97.26Z"/>
<path d="M260.61 97.25L263.21 92.55L265.81 97.25Z"/>
<path d="M262.50 97.24L265.10 92.54L267.70 97.24Z"/>
<path d="M264.38 97.24L266.98 92.54L269.58 97.24Z"/>
<path d="M266.27 97.23L268.87 92.53L271.47 97.23Z"/>
<path d="M268.15 97.22L270.75 92.52L273.35 97.22Z"/>
<path d="M270.04 97.21L272.64 92.51L275.24 97.21Z"/>
<path d="M271.93 97.20L274.53 92.50L277.13 97.20Z"/>
<path d="M273.81 97.19L276.41 92.49L279.01 97.19Z"/>
<path d="M275.70 97.18L278.30 92.48L280.90 97.18Z"/>
<path d="M277.58 97.18L280.18 92.48L282.78 97.18Z"/>
<path d="M279.47 97.17L282.07 92.47L284.67 97.17Z"/>
<path d="M281.35 97.16L283.95 92.46L286.55 97.16Z"/>
<path d="M283.24 97.15L285.84 92.45L288.44 97.15Z"/>
<path d="M285.12 97.14L287.72 92.44L290.32 97.14Z"/>
<path d="M287.01 97.13L289.61 92.43L292.21 97.13Z"/>
<path d="M288.89 97.13L291.49 92.43L294.09 97.13Z"/>
<path d="M290.78 97.12L293.38 92.42L295.98 97.12Z"/>
<path d="M292.67 97.11L295.27 92.41L297.87 97.11Z"/>
<path d="M294.55 97.10L297.15 92.40L299.75 97.10Z"/>
<path d="M296.44 97.09L299.04 92.39L301.64 97.09Z"/>
<path d="M298.32 97.08L300.92 92.38L303.52 97.08Z"/>
<path d="M300.21 97.07L302.81 92.37L305.41 97.07Z"/>
<path d="M302.09 97.07L304.69 92.37L307.29 97.07Z"/>
<path d="M303.98 97.06L306.58 92.36L309.18 97.06Z"/>
<path d="M305.86 97.05L308.46 92.35L311.06 97.05Z"/>
<path d="M307.75 97.04L310.35 92.34L312.95 97.04Z"/>
<path d="M309.63 97.03L312.23 92.33L314.83 97.03Z"/>
<path d="M311.52 97.02L314.12 92.32L316.72 97.02Z"/>
<path d="M313.41 97.01L316.01 92.31L318.61 97.01Z"/>
<path d="M315.29 97.01L317.89 92.31L320.49 97.01Z"/>
<path d="M317.18 97.00L319.78 92.30L322.38 97.00Z"/>
<path d="M319.06 96.99L321.66 92.29L324.26 96.99Z"/>
<path d="M320.95 96.98L323.55 92.28L326.15 96.98Z"/>
<path d="M322.83 96.97L325.43 92.27L328.03 96.97Z"/>
<path d="M324.72 96.96L327.32 92.26L329.92 96.96Z"/>
<path d="M326.60 96.96L329.20 92.26L331.80 96.96Z"/>
<path d="M328.49 96.95L331.09 92.25L333.69 96.95Z"/>
<path d="M330.37 96.94L332.97 92.24L335.57 96.94Z"/>
<path d="M332.26 96.93L334.86 92.23L337.46 96.93Z"/>
<path d="M334.15 96.92L336.75 92.22L339.35 96.92Z"/>
<path d="M336.03 96.91L338.63 92.21L341.23 96.91Z"/>
<path d="M337.92 96.90L340.52 92.20L343.12 96.90Z"/>
<path d="M339.80 96.90L342.40 92.20L345.00 96.90Z"/>
<path d="M341.69 96.89L344.29 92.19L346.89 96.89Z"/>
<path d="M343.57 96.88L346.17 92.18L348.77 96.88Z"/>
<path d="M345.46 96.87L348.06 92.17L350.66 96.87Z"/>
<path d="M347.34 96.86L349.94 92.16L352.54 96.86Z"/>
<path d="M349.23 96.85L351.83 92.15L354.43 96.85Z"/>
<path d="M351.11 96.85L353.71 92.15L356.31 96.85Z"/>
<path d="M353.00 96.84L355.60 92.14L358.20 96.84Z"/>
<path d="M252.30 94.83L254.90 90.13L257.50 94.83Z"/>
<path d="M254.20 94.82L256.80 90.12L259.40 94.82Z"/>
<path d="M256.10 94.82L258.70 90.12L261.30 94.82Z"/>
<path d="M258.00 94.81L260.60 90.11L263.20 94.81Z"/>
<path d="M259.90 94.80L262.50 90.10L265.10 94.80Z"/>
<path d="M261.80 94.79L264.40 90.09L267.00 94.79Z"/>
<path d="M263.70 94.78L266.30 90.08L268.90 94.78Z"/>
<path d="M265.60 94.77L268.20 90.07L270.80 94.77Z"/>
<path d="M267.50 94.77L270.10 90.07L272.70 94.77Z"/>
<path d="M269.40 94.76L272.00 90.06L274.60 94.76Z"/>
<path d="M271.30 94.75L273.90 90.05L276.50 94.75Z"/>
<path d="M273.20 94.74L275.80 90.04L278.40 94.74Z"/>
<path d="M275.10 94.73L277.70 90.03L280.30 94.73Z"/>
<path d="M277.00 94.72L279.60 90.02L282.20 94.72Z"/>
<path d="M278.90 94.71L281.50 90.01L284.10 94.71Z"/>
<path d="M280.80 94.71L283.40 90.01L286.00 94.71Z"/>
<path d="M282.70 94.70L285.30 90.00L287.90 94.70Z"/>
<path d="M284.60 94.69L287.20 89.99L289.80 94.69Z"/>
<path d="M286.50 94.68L289.10 89.98L291.70 94.68Z"/>
<path d="M288.40 94.67L291.00 89.97L293.60 94.67Z"/>
<path d="M290.30 94.66L292.90 89.96L295.50 94.66Z"/>
<path d="M292.20 94.65L294.80 89.95L297.40 94.65Z"/>
<path d="M294.10 94.65L296.70 89.95L299.30 94.65Z"/>
<path d="M296.00 94.64L298.60 89.94L301.20 94.64Z"/>
<path d="M297.90 94.63L300.50 89.93L303.10 94.63Z"/>
<path d="M299.80 94.62L302.40 89.92L305.00 94.62Z"/>
<path d="M301.70 94.61L304.30 89.91L306.90 94.61Z"/>
<path d="M303.60 94.60L306.20 89.90L308.80 94.60Z"/>
<path d="M305.50 94.59L308.10 89.89L310.70 94.59Z"/>
<path d="M307.40 94.59L310.00 89.89L312.60 94.59Z"/>
<path d="M309.30 94.58L311.90 89.88L314.50 94.58Z"/>
<path d="M311.20 94.57L313.80 89.87L316.40 94.57Z"/>
<path d="M313.10 94.56L315.70 89.86L318.30 94.56Z"/>
<path d="M315.00 94.55L317.60 89.85L320.20 94.55Z"/>
<path d="M316.90 94.54L319.50 89.84L322.10 94.54Z"/>
<path d="M318.80 94.53L321.40 89.83L324.00 94.53Z"/>
<path d="M320.70 94.53L323.30 89.83L325.90 94.53Z"/>
<path d="M322.60 94.52L325.20 89.82L327.80 94.52Z"/>
<path d="M324.50 94.51L327.10 89.81L329.70 94.51Z"/>
<path d="M326.40 94.50L329.00 89.80L331.60 94.50Z"/>
<path d="M328.30 94.49L330.90 89.79L333.50 94.49Z"/>
<path d="M330.20 94.48L332.80 89.78L335.40 94.48Z"/>
<path d="M332.10 94.47L334.70 89.77L337.30 94.47Z"/>
<path d="M334.00 94.47L336.60 89.77L339.20 94.47Z"/>
<path d="M335.90 94.46L338.50 89.76L341.10 94.46Z"/>
<path d="M337.80 94.45L340.40 89.75L343.00 94.45Z"/>
<path d="M339.70 94.44L342.30 89.74L344.90 94.44Z"/>
<path d="M341.60 94.43L344.20 89.73L346.80 94.43Z"/>
<path d="M343.50 94.42L346.10 89.72L348.70 94.42Z"/>
<path d="M345.40 94.41L348.00 89.71L350.60 94.41Z"/>
<path d="M347.30 94.41L349.90 89.71L352.50 94.41Z"/>
<path d="M349.20 94.40L351.80 89.70L354.40 94.40Z"/>
<path d="M255.30 92.36L257.90 87.66L260.50 92.36Z"/>
<path d="M257.22 92.35L259.82 87.65L262.42 92.35Z"/>
<path d="M259.13 92.35L261.73 87.65L264.33 92.35Z"/>
<path d="M261.05 92.34L263.65 87.64L266.25 92.34Z"/>
<path d="M262.97 92.33L265.57 87.63L268.17 92.33Z"/>
<path d="M264.89 92.32L267.49 87.62L270.09 92.32Z"/>
<path d="M266.80 92.31L269.40 87.61L272.00 92.31Z"/>
<path d="M268.72 92.30L271.32 87.60L273.92 92.30Z"/>
<path d="M270.64 92.29L273.24 87.59L275.84 92.29Z"/>
<path d="M272.55 92.29L275.15 87.59L277.75 92.29Z"/>
<path d="M274.47 92.28L277.07 87.58L279.67 92.28Z"/>
<path d="M276.39 92.27L278.99 87.57L281.59 92.27Z"/>
<path d="M278.30 92.26L280.90 87.56L283.50 92.26Z"/>
<path d="M280.22 92.25L282.82 87.55L285.42 92.25Z"/>
<path d="M282.14 92.24L284.74 87.54L287.34 92.24Z"/>
<path d="M284.06 92.23L286.66 87.53L289.26 92.23Z"/>
<path d="M285.97 92.23L288.57 87.53L291.17 92.23Z"/>
<path d="M287.89 92.22L290.49 87.52L293.09 92.22Z"/>
<path d="M289.81 92.21L292.41 87.51L295.01 92.21Z"/>
<path d="M291.72 92.20L294.32 87.50L296.92 92.20Z"/>
<path d="M293.64 92.19L296.24 87.49L298.84 92.19Z"/>
<path d="M295.56 92.18L298.16 87.48L300.76 92.18Z"/>
<path d="M297.47 92.17L300.07 87.47L302.67 92.17Z"/>
<path d="M299.39 92.17L301.99 87.47L304.59 92.17Z"/>
<path d="M301.31 92.16L303.91 87.46L306.51 92.16Z"/>
<path d="M303.23 92.15L305.83 87.45L308.43 92.15Z"/>
<path d="M305.14 92.14L307.74 87.44L310.34 92.14Z"/>
<path d="M307.06 92.13L309.66 87.43L312.26 92.13Z"/>
<path d="M308.98 92.12L311.58 87.42L314.18 92.12Z"/>
<path d="M310.89 92.11L313.49 87.41L316.09 92.11Z"/>
<path d="M312.81 92.10L315.41 87.40L318.01 92.10Z"/>
<path d="M314.73 92.10L317.33 87.40L319.93 92.10Z"/>
<path d="M316.64 92.09L319.24 87.39L321.84 92.09Z"/>
<path d="M318.56 92.08L321.16 87.38L323.76 92.08Z"/>
<path d="M320.48 92.07L323.08 87.37L325.68 92.07Z"/>
<path d="M322.40 92.06L325.00 87.36L327.60 92.06Z"/>
<path d="M324.31 92.05L326.91 87.35L329.51 92.05Z"/>
<path d="M326.23 92.04L328.83 87.34L331.43 92.04Z"/>
<path d="M328.15 92.04L330.75 87.34L333.35 92.04Z"/>
<path d="M330.06 92.03L332.66 87.33L335.26 92.03Z"/>
<path d="M331.98 92.02L334.58 87.32L337.18 92.02Z"/>
<path d="M333.90 92.01L336.50 87.31L339.10 92.01Z"/>
<path d="M335.81 92.00L338.41 87.30L341.01 92.00Z"/>
<path d="M337.73 91.99L340.33 87.29L342.93 91.99Z"/>
<path d="M339.65 91.98L342.25 87.28L344.85 91.98Z"/>
<path d="M341.57 91.98L344.17 87.28L346.77 91.98Z"/>
<path d="M343.48 91.97L346.08 87.27L348.68 91.97Z"/>
<path d="M345.40 91.96L348.00 87.26L350.60 91.96Z"/>
<path d="M274.30 87.36L276.90 82.66L279.50 87.36Z"/>
<path d="M278.06 87.35L280.66 82.65L283.26 87.35Z"/>
<path d="M281.82 87.33L284.42 82.63L287.02 87.33Z"/>
<path d="M285.57 87.31L288.17 82.61L290.77 87.31Z"/>
<path d="M289.33 87.30L291.93 82.60L294.53 87.30Z"/>
<path d="M293.09 87.28L295.69 82.58L298.29 87.28Z"/>
<path d="M296.85 87.26L299.45 82.56L302.05 87.26Z"/>
<path d="M300.61 87.25L303.21 82.55L305.81 87.25Z"/>
<path d="M304.37 87.23L306.97 82.53L309.57 87.23Z"/>
<path d="M308.12 87.21L310.73 82.51L313.33 87.21Z"/>
<path d="M311.88 87.20L314.48 82.50L317.08 87.20Z"/>
<path d="M315.64 87.18L318.24 82.48L320.84 87.18Z"/>
<path d="M319.40 87.16L322.00 82.46L324.60 87.16Z"/>
<path d="M266.20 87.40L268.80 82.70L271.40 87.40Z"/>
<path d="M275.60 82.45L278.20 77.75L280.80 82.45Z"/>
<path d="M408.00 170.28L410.60 165.58L413.20 170.28Z"/>
<path d="M411.61 170.27L414.21 165.57L416.81 170.27Z"/>
<path d="M415.22 170.25L417.82 165.55L420.42 170.25Z"/>
<path d="M404.25 170.30L406.85 165.60L409.45 170.30Z"/>
<path d="M409.73 170.28L412.33 165.58L414.93 170.28Z"/>
<path d="M389.66 165.45L392.26 160.75L394.86 165.45Z"/>
<path d="M392.03 165.44L394.63 160.74L397.23 165.44Z"/>
<path d="M394.40 165.43L397.00 160.73L399.60 165.43Z"/>
<path d="M396.78 165.42L399.38 160.72L401.98 165.42Z"/>
<path d="M399.15 165.41L401.75 160.71L404.35 165.41Z"/>
<path d="M401.52 165.40L404.12 160.70L406.72 165.40Z"/>
<path d="M403.90 165.39L406.50 160.69L409.10 165.39Z"/>
<path d="M408.64 165.37L411.24 160.67L413.84 165.37Z"/>
<path d="M389.56 160.54L392.16 155.84L394.76 160.54Z"/>
<path d="M394.18 160.52L396.78 155.82L399.38 160.52Z"/>
<path d="M398.80 160.50L401.40 155.80L404.00 160.50Z"/>
<path d="M401.10 160.49L403.70 155.79L406.31 160.49Z"/>
<path d="M403.41 160.48L406.01 155.78L408.61 160.48Z"/>
<path d="M405.72 160.47L408.32 155.77L410.92 160.47Z"/>
<path d="M408.03 160.46L410.63 155.76L413.23 160.46Z"/>
<path d="M388.29 155.63L390.89 150.93L393.49 155.63Z"/>
<path d="M390.85 155.62L393.45 150.92L396.05 155.62Z"/>
<path d="M393.42 155.61L396.02 150.91L398.62 155.61Z"/>
<path d="M395.99 155.60L398.59 150.90L401.19 155.60Z"/>
<path d="M398.55 155.59L401.15 150.89L403.75 155.59Z"/>
<path d="M403.69 155.56L406.29 150.86L408.89 155.56Z"/>
<path d="M406.25 155.55L408.85 150.85L411.45 155.55Z"/>
<path d="M385.57 150.73L388.18 146.03L390.78 150.73Z"/>
<path d="M388.12 150.72L390.72 146.02L393.32 150.72Z"/>
<path d="M390.66 150.71L393.26 146.01L395.86 150.71Z"/>
<path d="M395.74 150.69L398.34 145.99L400.94 150.69Z"/>
<path d="M398.28 150.68L400.88 145.98L403.48 150.68Z"/>
<path d="M403.36 150.65L405.96 145.95L408.56 150.65Z"/>
<path d="M381.58 145.84L384.18 141.14L386.78 145.84Z"/>
<path d="M383.97 145.83L386.57 141.13L389.17 145.83Z"/>
<path d="M386.36 145.82L388.96 141.12L391.56 145.82Z"/>
<path d="M388.74 145.81L391.34 141.11L393.94 145.81Z"/>
<path d="M391.13 145.80L393.73 141.10L396.33 145.80Z"/>
<path d="M393.52 145.78L396.12 141.08L398.72 145.78Z"/>
<path d="M395.90 145.77L398.50 141.07L401.10 145.77Z"/>
<path d="M398.29 145.76L400.89 141.06L403.49 145.76Z"/>
<path d="M400.68 145.75L403.28 141.05L405.88 145.75Z"/>
<path d="M377.35 140.94L379.95 136.24L382.55 140.94Z"/>
<path d="M379.86 140.93L382.46 136.23L385.06 140.93Z"/>
<path d="M382.37 140.92L384.97 136.22L387.57 140.92Z"/>
<path d="M384.88 140.91L387.48 136.21L390.08 140.91Z"/>
<path d="M387.39 140.90L389.99 136.20L392.59 140.90Z"/>
<path d="M389.90 140.89L392.50 136.19L395.11 140.89Z"/>
<path d="M392.42 140.88L395.02 136.18L397.62 140.88Z"/>
<path d="M397.44 140.85L400.04 136.15L402.64 140.85Z"/>
<path d="M373.34 136.05L375.94 131.35L378.54 136.05Z"/>
<path d="M375.80 136.04L378.40 131.34L381.00 136.04Z"/>
<path d="M378.26 136.03L380.86 131.33L383.46 136.03Z"/>
<path d="M380.72 136.02L383.32 131.32L385.92 136.02Z"/>
<path d="M383.18 136.00L385.78 131.30L388.38 136.00Z"/>
<path d="M385.64 135.99L388.25 131.29L390.85 135.99Z"/>
<path d="M388.11 135.98L390.71 131.28L393.31 135.98Z"/>
<path d="M390.57 135.97L393.17 131.27L395.77 135.97Z"/>
<path d="M393.03 135.96L395.63 131.26L398.23 135.96Z"/>
<path d="M370.36 131.15L372.96 126.45L375.56 131.15Z"/>
<path d="M372.80 131.14L375.40 126.44L378.00 131.14Z"/>
<path d="M375.24 131.13L377.84 126.43L380.44 131.13Z"/>
<path d="M377.68 131.12L380.28 126.42L382.88 131.12Z"/>
<path d="M380.12 131.11L382.72 126.41L385.32 131.11Z"/>
<path d="M382.56 131.09L385.16 126.39L387.76 131.09Z"/>
<path d="M385.00 131.08L387.60 126.38L390.20 131.08Z"/>
<path d="M387.44 131.07L390.04 126.37L392.64 131.07Z"/>
<path d="M389.89 131.06L392.49 126.36L395.09 131.06Z"/>
<path d="M368.89 126.24L371.49 121.54L374.09 126.24Z"/>
<path d="M371.16 126.23L373.76 121.53L376.36 126.23Z"/>
<path d="M373.43 126.22L376.03 121.52L378.63 126.22Z"/>
<path d="M375.69 126.21L378.29 121.51L380.89 126.21Z"/>
<path d="M380.22 126.19L382.82 121.49L385.42 126.19Z"/>
<path d="M382.49 126.18L385.09 121.48L387.69 126.18Z"/>
<path d="M384.75 126.17L387.35 121.47L389.95 126.17Z"/>
<path d="M387.02 126.16L389.62 121.46L392.22 126.16Z"/>
<path d="M366.22 121.34L368.82 116.64L371.43 121.34Z"/>
<path d="M368.62 121.33L371.22 116.63L373.82 121.33Z"/>
<path d="M371.02 121.32L373.62 116.62L376.22 121.32Z"/>
<path d="M373.41 121.31L376.01 116.61L378.61 121.31Z"/>
<path d="M378.21 121.29L380.81 116.59L383.41 121.29Z"/>
<path d="M383.00 121.27L385.60 116.57L388.20 121.27Z"/>
<path d="M358.44 116.46L361.04 111.76L363.64 116.46Z"/>
<path d="M360.95 116.45L363.55 111.75L366.15 116.45Z"/>
<path d="M363.47 116.44L366.07 111.74L368.67 116.44Z"/>
<path d="M365.99 116.43L368.59 111.73L371.19 116.43Z"/>
<path d="M368.51 116.42L371.11 111.72L373.71 116.42Z"/>
<path d="M371.03 116.41L373.63 111.71L376.23 116.41Z"/>
<path d="M373.54 116.40L376.14 111.70L378.74 116.40Z"/>
<path d="M376.06 116.39L378.66 111.69L381.26 116.39Z"/>
<path d="M378.58 116.37L381.18 111.67L383.78 116.37Z"/>
<path d="M352.68 111.58L355.28 106.88L357.88 111.58Z"/>
<path d="M355.05 111.57L357.65 106.87L360.25 111.57Z"/>
<path d="M359.79 111.55L362.39 106.85L364.99 111.55Z"/>
<path d="M362.16 111.53L364.76 106.83L367.36 111.53Z"/>
<path d="M364.53 111.52L367.13 106.82L369.73 111.52Z"/>
<path d="M366.90 111.51L369.50 106.81L372.10 111.51Z"/>
<path d="M369.27 111.50L371.87 106.80L374.47 111.50Z"/>
<path d="M374.01 111.48L376.61 106.78L379.21 111.48Z"/>
<path d="M344.58 106.70L347.18 102.00L349.78 106.70Z"/>
<path d="M346.99 106.69L349.59 101.99L352.19 106.69Z"/>
<path d="M349.41 106.68L352.01 101.98L354.61 106.68Z"/>
<path d="M354.24 106.66L356.84 101.96L359.44 106.66Z"/>
<path d="M356.65 106.65L359.25 101.95L361.85 106.65Z"/>
<path d="M359.06 106.64L361.66 101.94L364.26 106.64Z"/>
<path d="M361.48 106.62L364.08 101.92L366.68 106.62Z"/>
<path d="M363.89 106.61L366.49 101.91L369.09 106.61Z"/>
<path d="M366.31 106.60L368.91 101.90L371.51 106.60Z"/>
<path d="M368.72 106.59L371.32 101.89L373.92 106.59Z"/>
<path d="M371.13 106.58L373.73 101.88L376.33 106.58Z"/>
<path d="M279.80 111.90L282.40 107.20L285.00 111.90Z"/>
<path d="M404.40 174.50L407.00 169.80L409.60 174.50Z"/>
<path d="M412.40 174.50L415.00 169.80L417.60 174.50Z"/>
<path d="M408.90 174.50L411.50 169.80L414.10 174.50Z"/>
<path d="M400.90 180.30L403.50 175.60L406.10 180.30Z"/>
<path d="M404.60 180.30L407.20 175.60L409.80 180.30Z"/>
<path d="M408.90 180.30L411.50 175.60L414.10 180.30Z"/>
<path d="M413.10 180.30L415.70 175.60L418.30 180.30Z"/>
<path d="M421.60 180.30L424.20 175.60L426.80 180.30Z"/>
<path d="M400.40 184.90L403.00 180.20L405.60 184.90Z"/>
<path d="M408.90 184.90L411.50 180.20L414.10 184.90Z"/>
<path d="M417.30 184.90L419.90 180.20L422.50 184.90Z"/>
<path d="M405.20 189.80L407.80 185.10L410.40 189.80Z"/>
<path d="M409.20 189.80L411.80 185.10L414.40 189.80Z"/>
<path d="M413.10 189.80L415.70 185.10L418.30 189.80Z"/>
<path d="M421.60 189.80L424.20 185.10L426.80 189.80Z"/>
<path d="M425.80 189.80L428.40 185.10L431.00 189.80Z"/>
<path d="M417.30 194.30L419.90 189.60L422.50 194.30Z"/>
<path d="M425.30 194.30L427.90 189.60L430.50 194.30Z"/>
<path d="M417.40 199.10L420.00 194.40L422.60 199.10Z"/>
<path d="M421.60 199.10L424.20 194.40L426.80 199.10Z"/>
<path d="M425.80 199.10L428.40 194.40L431.00 199.10Z"/>
<path d="M430.00 199.10L432.60 194.40L435.20 199.10Z"/>
<path d="M412.70 204.40L415.30 199.70L417.90 204.40Z"/>
<path d="M416.90 204.40L419.50 199.70L422.10 204.40Z"/>
<path d="M430.30 204.40L432.90 199.70L435.50 204.40Z"/>
<path d="M416.80 209.50L419.40 204.80L422.00 209.50Z"/>
<path d="M421.40 209.50L424.00 204.80L426.60 209.50Z"/>
<path d="M425.90 209.50L428.50 204.80L431.10 209.50Z"/>
<path d="M430.30 209.50L432.90 204.80L435.50 209.50Z"/>
<path d="M421.40 214.10L424.00 209.40L426.60 214.10Z"/>
<path d="M421.00 219.30L423.60 214.60L426.20 219.30Z"/>
<path d="M430.30 219.30L432.90 214.60L435.50 219.30Z"/>
<path d="M438.60 219.30L441.20 214.60L443.80 219.30Z"/>
<path d="M430.30 224.30L432.90 219.60L435.50 224.30Z"/>
<path d="M438.60 224.30L441.20 219.60L443.80 224.30Z"/>
<path d="M434.60 228.70L437.20 224.00L439.80 228.70Z"/>
<path d="M425.30 233.70L427.90 229.00L430.50 233.70Z"/>
<path d="M433.90 233.70L436.50 229.00L439.10 233.70Z"/>
<path d="M438.40 233.70L441.00 229.00L443.60 233.70Z"/>
<path d="M442.70 233.70L445.30 229.00L447.90 233.70Z"/>
<path d="M447.10 233.70L449.70 229.00L452.30 233.70Z"/>
<path d="M434.10 238.40L436.70 233.70L439.30 238.40Z"/>
<path d="M438.90 238.40L441.50 233.70L444.10 238.40Z"/>
<path d="M429.90 243.30L432.50 238.60L435.10 243.30Z"/>
<path d="M438.90 243.30L441.50 238.60L444.10 243.30Z"/>
<path d="M447.40 243.30L450.00 238.60L452.60 243.30Z"/>
<path d="M434.10 248.50L436.70 243.80L439.30 248.50Z"/>
<path d="M438.90 248.50L441.50 243.80L444.10 248.50Z"/>
<path d="M451.10 248.50L453.70 243.80L456.30 248.50Z"/>
<path d="M451.10 253.20L453.70 248.50L456.30 253.20Z"/>
<path d="M443.00 258.30L445.60 253.60L448.20 258.30Z"/>
<path d="M451.20 258.30L453.80 253.60L456.40 258.30Z"/>
<path d="M455.80 258.30L458.40 253.60L461.00 258.30Z"/>
<path d="M447.10 263.30L449.70 258.60L452.30 263.30Z"/>
<path d="M451.20 263.30L453.80 258.60L456.40 263.30Z"/>
<path d="M455.80 263.30L458.40 258.60L461.00 263.30Z"/>
<path d="M442.90 268.00L445.50 263.30L448.10 268.00Z"/>
<path d="M451.20 268.00L453.80 263.30L456.40 268.00Z"/>
<path d="M455.80 268.00L458.40 263.30L461.00 268.00Z"/>
<path d="M460.40 268.00L463.00 263.30L465.60 268.00Z"/>
<path d="M451.00 277.80L453.60 273.10L456.20 277.80Z"/>
<path d="M455.20 277.80L457.80 273.10L460.40 277.80Z"/>
<path d="M459.70 277.80L462.30 273.10L464.90 277.80Z"/>
<path d="M464.70 282.60L467.30 277.90L469.90 282.60Z"/>
<path d="M456.30 287.50L458.90 282.80L461.50 287.50Z"/>
<path d="M460.00 287.50L462.60 282.80L465.20 287.50Z"/>
<path d="M460.00 292.80L462.60 288.10L465.20 292.80Z"/>
<path d="M469.00 292.80L471.60 288.10L474.20 292.80Z"/>
<path d="M464.70 298.10L467.30 293.40L469.90 298.10Z"/>
<circle cx="393.44" cy="158.24" r="2.35"/>
<circle cx="385.51" cy="143.53" r="2.35"/>
<circle cx="385.25" cy="138.62" r="2.35"/>
<circle cx="379.80" cy="123.91" r="2.35"/>
<circle cx="382.22" cy="118.98" r="2.35"/>
<circle cx="360.09" cy="114.17" r="2.35"/>
<circle cx="364.32" cy="104.32" r="2.35"/>
<circle cx="403.00" cy="172.20" r="2.35"/>
<circle cx="419.90" cy="172.20" r="2.35"/>
<circle cx="423.60" cy="202.10" r="2.35"/>
<circle cx="437.00" cy="211.80" r="2.35"/>
<circle cx="445.70" cy="236.10" r="2.35"/>
<circle cx="445.70" cy="250.90" r="2.35"/>
<circle cx="453.80" cy="270.80" r="2.35"/>
<circle cx="467.30" cy="290.50" r="2.35"/>
<rect class="o" x="85.15" y="305.15" width="3.7" height="3.7"/>
<rect class="o" x="84.15" y="300.25" width="3.7" height="3.7"/>
<rect class="o" x="88.65" y="300.23" width="3.7" height="3.7"/>
<rect class="o" x="84.15" y="295.33" width="3.7" height="3.7"/>
<rect class="o" x="88.65" y="295.31" width="3.7" height="3.7"/>
<rect class="o" x="84.15" y="290.42" width="3.7" height="3.7"/>
<rect class="o" x="83.65" y="280.60" width="3.7" height="3.7"/>
<rect class="o" x="85.15" y="275.68" width="3.7" height="3.7"/>
<rect class="o" x="94.75" y="275.63" width="3.7" height="3.7"/>
<rect class="o" x="83.85" y="270.77" width="3.7" height="3.7"/>
<rect class="o" x="83.85" y="265.86" width="3.7" height="3.7"/>
<rect class="o" x="87.65" y="260.93" width="3.7" height="3.7"/>
<rect class="o" x="103.55" y="260.85" width="3.7" height="3.7"/>
<rect class="o" x="92.15" y="255.99" width="3.7" height="3.7"/>
<rect class="o" x="118.51" y="246.05" width="3.7" height="3.7"/>
<rect class="o" x="118.33" y="236.22" width="3.7" height="3.7"/>
<rect class="o" x="122.15" y="250.94" width="3.7" height="3.7"/>
<rect class="o" x="133.28" y="260.72" width="3.7" height="3.7"/>
<rect class="o" x="131.15" y="270.56" width="3.7" height="3.7"/>
<rect class="o" x="134.85" y="270.54" width="3.7" height="3.7"/>
<rect class="o" x="137.25" y="275.44" width="3.7" height="3.7"/>
<rect class="o" x="140.25" y="275.43" width="3.7" height="3.7"/>
<rect class="o" x="143.25" y="275.42" width="3.7" height="3.7"/>
<rect class="o" x="156.66" y="260.62" width="3.7" height="3.7"/>
<rect class="o" x="159.28" y="255.69" width="3.7" height="3.7"/>
<rect class="o" x="161.90" y="250.77" width="3.7" height="3.7"/>
<rect class="o" x="164.53" y="245.84" width="3.7" height="3.7"/>
<rect class="o" x="164.29" y="240.93" width="3.7" height="3.7"/>
<rect class="o" x="163.94" y="236.02" width="3.7" height="3.7"/>
<rect class="o" x="169.78" y="235.99" width="3.7" height="3.7"/>
<rect class="o" x="171.69" y="231.07" width="3.7" height="3.7"/>
<rect class="o" x="168.23" y="226.17" width="3.7" height="3.7"/>
<rect class="o" x="172.50" y="216.33" width="3.7" height="3.7"/>
<rect class="o" x="177.27" y="216.31" width="3.7" height="3.7"/>
<rect class="o" x="177.05" y="206.48" width="3.7" height="3.7"/>
<rect class="o" x="181.73" y="206.46" width="3.7" height="3.7"/>
<rect class="o" x="183.97" y="201.54" width="3.7" height="3.7"/>
<rect class="o" x="188.98" y="191.69" width="3.7" height="3.7"/>
<rect class="o" x="191.80" y="186.76" width="3.7" height="3.7"/>
<rect class="o" x="197.80" y="176.91" width="3.7" height="3.7"/>
<rect class="o" x="194.85" y="172.01" width="3.7" height="3.7"/>
<rect class="o" x="197.94" y="172.00" width="3.7" height="3.7"/>
<rect class="o" x="200.53" y="162.16" width="3.7" height="3.7"/>
<rect class="o" x="204.00" y="162.14" width="3.7" height="3.7"/>
<rect class="o" x="213.59" y="147.36" width="3.7" height="3.7"/>
<rect class="o" x="216.50" y="137.52" width="3.7" height="3.7"/>
<rect class="o" x="226.63" y="137.48" width="3.7" height="3.7"/>
<rect class="o" x="231.60" y="132.54" width="3.7" height="3.7"/>
<rect class="o" x="227.77" y="127.64" width="3.7" height="3.7"/>
<rect class="o" x="235.53" y="127.61" width="3.7" height="3.7"/>
<rect class="o" x="227.55" y="122.73" width="3.7" height="3.7"/>
<rect class="o" x="235.35" y="122.70" width="3.7" height="3.7"/>
<rect class="o" x="239.25" y="122.68" width="3.7" height="3.7"/>
<rect class="o" x="243.21" y="117.75" width="3.7" height="3.7"/>
<rect class="o" x="247.61" y="112.82" width="3.7" height="3.7"/>
<rect class="o" x="247.33" y="107.90" width="3.7" height="3.7"/>
<rect class="o" x="251.18" y="107.89" width="3.7" height="3.7"/>
<rect class="o" x="255.03" y="107.87" width="3.7" height="3.7"/>
<rect class="o" x="258.88" y="107.85" width="3.7" height="3.7"/>
<rect class="o" x="252.23" y="102.97" width="3.7" height="3.7"/>
<rect class="o" x="255.80" y="102.95" width="3.7" height="3.7"/>
<rect class="o" x="270.08" y="102.89" width="3.7" height="3.7"/>
<rect class="o" x="248.58" y="98.07" width="3.7" height="3.7"/>
<rect class="o" x="252.55" y="98.06" width="3.7" height="3.7"/>
<rect class="o" x="258.20" y="98.03" width="3.7" height="3.7"/>
<rect class="o" x="263.37" y="98.01" width="3.7" height="3.7"/>
<rect class="o" x="268.31" y="97.98" width="3.7" height="3.7"/>
<rect class="o" x="272.06" y="97.97" width="3.7" height="3.7"/>
<rect class="o" x="277.73" y="97.94" width="3.7" height="3.7"/>
<rect class="o" x="281.95" y="97.92" width="3.7" height="3.7"/>
<rect class="o" x="287.63" y="97.90" width="3.7" height="3.7"/>
<rect class="o" x="292.68" y="97.87" width="3.7" height="3.7"/>
<rect class="o" x="296.62" y="97.86" width="3.7" height="3.7"/>
<rect class="o" x="302.14" y="97.83" width="3.7" height="3.7"/>
<rect class="o" x="307.16" y="97.81" width="3.7" height="3.7"/>
<rect class="o" x="312.21" y="97.79" width="3.7" height="3.7"/>
<rect class="o" x="316.92" y="97.77" width="3.7" height="3.7"/>
<rect class="o" x="321.55" y="97.74" width="3.7" height="3.7"/>
<rect class="o" x="326.89" y="97.72" width="3.7" height="3.7"/>
<rect class="o" x="336.43" y="97.68" width="3.7" height="3.7"/>
<rect class="o" x="340.72" y="97.66" width="3.7" height="3.7"/>
<rect class="o" x="256.33" y="93.13" width="3.7" height="3.7"/>
<rect class="o" x="265.97" y="93.08" width="3.7" height="3.7"/>
<rect class="o" x="272.05" y="93.05" width="3.7" height="3.7"/>
<rect class="o" x="276.41" y="93.03" width="3.7" height="3.7"/>
<rect class="o" x="282.08" y="93.01" width="3.7" height="3.7"/>
<rect class="o" x="286.69" y="92.99" width="3.7" height="3.7"/>
<rect class="o" x="291.57" y="92.97" width="3.7" height="3.7"/>
<rect class="o" x="296.75" y="92.94" width="3.7" height="3.7"/>
<rect class="o" x="301.85" y="92.92" width="3.7" height="3.7"/>
<rect class="o" x="306.82" y="92.90" width="3.7" height="3.7"/>
<rect class="o" x="312.16" y="92.87" width="3.7" height="3.7"/>
<rect class="o" x="318.16" y="92.85" width="3.7" height="3.7"/>
<rect class="o" x="323.30" y="92.82" width="3.7" height="3.7"/>
<rect class="o" x="328.37" y="92.80" width="3.7" height="3.7"/>
<rect class="o" x="332.96" y="92.78" width="3.7" height="3.7"/>
<rect class="o" x="338.66" y="92.75" width="3.7" height="3.7"/>
<rect class="o" x="267.65" y="88.16" width="3.7" height="3.7"/>
<rect class="o" x="273.28" y="88.14" width="3.7" height="3.7"/>
<rect class="o" x="288.28" y="88.07" width="3.7" height="3.7"/>
<rect class="o" x="307.63" y="87.98" width="3.7" height="3.7"/>
<rect class="o" x="328.52" y="87.89" width="3.7" height="3.7"/>
<rect class="o" x="237.15" y="103.04" width="3.7" height="3.7"/>
<rect class="o" x="241.04" y="103.02" width="3.7" height="3.7"/>
<rect class="o" x="244.93" y="103.00" width="3.7" height="3.7"/>
<rect class="o" x="248.82" y="102.98" width="3.7" height="3.7"/>
<rect class="o" x="252.71" y="102.97" width="3.7" height="3.7"/>
<rect class="o" x="264.37" y="102.91" width="3.7" height="3.7"/>
<rect class="o" x="268.26" y="102.90" width="3.7" height="3.7"/>
<rect class="o" x="272.15" y="102.88" width="3.7" height="3.7"/>
<rect class="o" x="387.12" y="166.23" width="3.7" height="3.7"/>
<rect class="o" x="394.33" y="166.20" width="3.7" height="3.7"/>
<rect class="o" x="397.94" y="166.18" width="3.7" height="3.7"/>
<rect class="o" x="383.82" y="161.33" width="3.7" height="3.7"/>
<rect class="o" x="387.77" y="161.32" width="3.7" height="3.7"/>
<rect class="o" x="391.73" y="161.30" width="3.7" height="3.7"/>
<rect class="o" x="383.90" y="156.42" width="3.7" height="3.7"/>
<rect class="o" x="402.37" y="156.34" width="3.7" height="3.7"/>
<rect class="o" x="382.80" y="151.51" width="3.7" height="3.7"/>
<rect class="o" x="386.54" y="151.50" width="3.7" height="3.7"/>
<rect class="o" x="390.28" y="151.48" width="3.7" height="3.7"/>
<rect class="o" x="390.28" y="151.48" width="3.7" height="3.7"/>
<rect class="o" x="380.15" y="146.61" width="3.7" height="3.7"/>
<rect class="o" x="383.86" y="146.59" width="3.7" height="3.7"/>
<rect class="o" x="387.56" y="146.58" width="3.7" height="3.7"/>
<rect class="o" x="397.93" y="146.53" width="3.7" height="3.7"/>
<rect class="o" x="375.70" y="141.72" width="3.7" height="3.7"/>
<rect class="o" x="379.68" y="141.70" width="3.7" height="3.7"/>
<rect class="o" x="383.66" y="141.68" width="3.7" height="3.7"/>
<rect class="o" x="371.12" y="136.83" width="3.7" height="3.7"/>
<rect class="o" x="375.31" y="136.81" width="3.7" height="3.7"/>
<rect class="o" x="379.50" y="136.79" width="3.7" height="3.7"/>
<rect class="o" x="379.50" y="136.79" width="3.7" height="3.7"/>
<rect class="o" x="391.21" y="136.74" width="3.7" height="3.7"/>
<rect class="o" x="367.25" y="131.93" width="3.7" height="3.7"/>
<rect class="o" x="371.35" y="131.91" width="3.7" height="3.7"/>
<rect class="o" x="375.45" y="131.89" width="3.7" height="3.7"/>
<rect class="o" x="364.32" y="127.03" width="3.7" height="3.7"/>
<rect class="o" x="368.39" y="127.01" width="3.7" height="3.7"/>
<rect class="o" x="372.46" y="126.99" width="3.7" height="3.7"/>
<rect class="o" x="383.85" y="126.94" width="3.7" height="3.7"/>
<rect class="o" x="363.35" y="122.12" width="3.7" height="3.7"/>
<rect class="o" x="367.13" y="122.10" width="3.7" height="3.7"/>
<rect class="o" x="370.90" y="122.09" width="3.7" height="3.7"/>
<rect class="o" x="361.15" y="117.22" width="3.7" height="3.7"/>
<rect class="o" x="364.64" y="117.20" width="3.7" height="3.7"/>
<rect class="o" x="368.14" y="117.19" width="3.7" height="3.7"/>
<rect class="o" x="353.52" y="112.34" width="3.7" height="3.7"/>
<rect class="o" x="358.24" y="112.32" width="3.7" height="3.7"/>
<rect class="o" x="335.11" y="107.51" width="3.7" height="3.7"/>
<rect class="o" x="339.66" y="107.49" width="3.7" height="3.7"/>
<rect class="o" x="344.22" y="107.47" width="3.7" height="3.7"/>
<rect class="o" x="348.78" y="107.45" width="3.7" height="3.7"/>
<rect class="o" x="353.34" y="107.43" width="3.7" height="3.7"/>
<rect class="o" x="368.53" y="107.36" width="3.7" height="3.7"/>
<rect class="o" x="322.35" y="102.65" width="3.7" height="3.7"/>
<rect class="o" x="330.86" y="102.62" width="3.7" height="3.7"/>
<rect class="o" x="339.37" y="102.58" width="3.7" height="3.7"/>
<rect class="o" x="343.63" y="102.56" width="3.7" height="3.7"/>
<rect class="o" x="347.88" y="102.54" width="3.7" height="3.7"/>
<rect class="o" x="251.65" y="137.55" width="3.7" height="3.7"/>
<rect class="o" x="254.65" y="141.85" width="3.7" height="3.7"/>
<rect class="o" x="273.65" y="107.25" width="3.7" height="3.7"/>
<rect class="o" x="296.55" y="107.25" width="3.7" height="3.7"/>
<rect class="o" x="296.55" y="111.95" width="3.7" height="3.7"/>
<rect class="o" x="314.05" y="121.85" width="3.7" height="3.7"/>
<rect class="o" x="353.65" y="116.85" width="3.7" height="3.7"/>
<rect class="o" x="373.55" y="151.25" width="3.7" height="3.7"/>
<rect class="o" x="151.25" y="270.55" width="3.7" height="3.7"/>
<rect class="o" x="260.85" y="107.25" width="3.7" height="3.7"/>
<rect class="o" x="85.45" y="309.75" width="3.7" height="3.7"/>
<rect class="o" x="320.75" y="107.25" width="3.7" height="3.7"/>
<rect class="o" x="324.75" y="107.25" width="3.7" height="3.7"/>
<rect class="o" x="324.15" y="102.75" width="3.7" height="3.7"/>
<rect class="o" x="389.45" y="170.35" width="3.7" height="3.7"/>
<rect class="o" x="393.15" y="170.35" width="3.7" height="3.7"/>
<rect class="o" x="405.35" y="170.35" width="3.7" height="3.7"/>
<rect class="o" x="413.85" y="170.35" width="3.7" height="3.7"/>
<rect class="o" x="392.65" y="180.75" width="3.7" height="3.7"/>
<rect class="o" x="393.15" y="190.15" width="3.7" height="3.7"/>
<rect class="o" x="401.15" y="190.15" width="3.7" height="3.7"/>
<rect class="o" x="405.35" y="190.15" width="3.7" height="3.7"/>
<rect class="o" x="422.35" y="190.15" width="3.7" height="3.7"/>
<rect class="o" x="397.45" y="194.95" width="3.7" height="3.7"/>
<rect class="o" x="401.65" y="194.95" width="3.7" height="3.7"/>
<rect class="o" x="405.35" y="194.95" width="3.7" height="3.7"/>
<rect class="o" x="413.85" y="194.95" width="3.7" height="3.7"/>
<rect class="o" x="405.55" y="200.25" width="3.7" height="3.7"/>
<rect class="o" x="426.65" y="200.25" width="3.7" height="3.7"/>
<rect class="o" x="397.25" y="205.35" width="3.7" height="3.7"/>
<rect class="o" x="409.75" y="205.35" width="3.7" height="3.7"/>
<rect class="o" x="405.55" y="209.95" width="3.7" height="3.7"/>
<rect class="o" x="426.45" y="209.95" width="3.7" height="3.7"/>
<rect class="o" x="405.55" y="215.15" width="3.7" height="3.7"/>
<rect class="o" x="426.15" y="215.15" width="3.7" height="3.7"/>
<rect class="o" x="405.55" y="220.15" width="3.7" height="3.7"/>
<rect class="o" x="426.35" y="220.15" width="3.7" height="3.7"/>
<rect class="o" x="413.35" y="224.55" width="3.7" height="3.7"/>
<rect class="o" x="430.65" y="224.55" width="3.7" height="3.7"/>
<rect class="o" x="409.15" y="229.55" width="3.7" height="3.7"/>
<rect class="o" x="413.65" y="229.55" width="3.7" height="3.7"/>
<rect class="o" x="430.65" y="229.55" width="3.7" height="3.7"/>
<rect class="o" x="413.75" y="234.25" width="3.7" height="3.7"/>
<rect class="o" x="418.45" y="234.25" width="3.7" height="3.7"/>
<rect class="o" x="413.75" y="244.35" width="3.7" height="3.7"/>
<rect class="o" x="443.85" y="244.35" width="3.7" height="3.7"/>
<rect class="o" x="439.65" y="249.05" width="3.7" height="3.7"/>
<rect class="o" x="422.35" y="254.15" width="3.7" height="3.7"/>
<rect class="o" x="426.55" y="254.15" width="3.7" height="3.7"/>
<rect class="o" x="422.35" y="259.15" width="3.7" height="3.7"/>
<rect class="o" x="426.55" y="259.15" width="3.7" height="3.7"/>
<rect class="o" x="430.65" y="259.15" width="3.7" height="3.7"/>
<rect class="o" x="439.35" y="259.15" width="3.7" height="3.7"/>
<rect class="o" x="426.55" y="263.85" width="3.7" height="3.7"/>
<rect class="o" x="430.65" y="268.95" width="3.7" height="3.7"/>
<rect class="o" x="456.55" y="268.95" width="3.7" height="3.7"/>
<rect class="o" x="435.25" y="273.65" width="3.7" height="3.7"/>
<circle class="o" cx="88.80" cy="307.00" r="2.0"/>
<circle class="o" cx="92.70" cy="292.24" r="2.0"/>
<circle class="o" cx="86.00" cy="287.36" r="2.0"/>
<circle class="o" cx="91.00" cy="287.33" r="2.0"/>
<circle class="o" cx="95.50" cy="282.40" r="2.0"/>
<circle class="o" cx="99.90" cy="272.56" r="2.0"/>
<circle class="o" cx="89.32" cy="267.69" r="2.0"/>
<circle class="o" cx="103.80" cy="267.62" r="2.0"/>
<circle class="o" cx="90.60" cy="257.86" r="2.0"/>
<circle class="o" cx="107.60" cy="257.78" r="2.0"/>
<circle class="o" cx="97.30" cy="252.92" r="2.0"/>
<circle class="o" cx="112.00" cy="252.85" r="2.0"/>
<circle class="o" cx="131.34" cy="247.85" r="2.0"/>
<circle class="o" cx="135.00" cy="247.83" r="2.0"/>
<circle class="o" cx="128.04" cy="242.95" r="2.0"/>
<circle class="o" cx="131.80" cy="242.93" r="2.0"/>
<circle class="o" cx="127.12" cy="238.04" r="2.0"/>
<circle class="o" cx="130.60" cy="238.03" r="2.0"/>
<circle class="o" cx="131.80" cy="252.76" r="2.0"/>
<circle class="o" cx="135.70" cy="252.74" r="2.0"/>
<circle class="o" cx="133.30" cy="257.67" r="2.0"/>
<circle class="o" cx="137.30" cy="257.65" r="2.0"/>
<circle class="o" cx="138.40" cy="262.56" r="2.0"/>
<circle class="o" cx="151.66" cy="267.41" r="2.0"/>
<circle class="o" cx="155.60" cy="267.39" r="2.0"/>
<circle class="o" cx="140.40" cy="272.37" r="2.0"/>
<circle class="o" cx="144.10" cy="272.36" r="2.0"/>
<circle class="o" cx="147.80" cy="272.34" r="2.0"/>
<circle class="o" cx="155.76" cy="257.57" r="2.0"/>
<circle class="o" cx="160.77" cy="247.72" r="2.0"/>
<circle class="o" cx="169.00" cy="242.77" r="2.0"/>
<circle class="o" cx="168.71" cy="237.85" r="2.0"/>
<circle class="o" cx="167.95" cy="232.95" r="2.0"/>
<circle class="o" cx="175.40" cy="228.00" r="2.0"/>
<circle class="o" cx="177.26" cy="223.08" r="2.0"/>
<circle class="o" cx="181.33" cy="213.23" r="2.0"/>
<circle class="o" cx="181.18" cy="203.41" r="2.0"/>
<circle class="o" cx="188.07" cy="198.46" r="2.0"/>
<circle class="o" cx="186.00" cy="193.56" r="2.0"/>
<circle class="o" cx="188.56" cy="188.64" r="2.0"/>
<circle class="o" cx="196.47" cy="183.69" r="2.0"/>
<circle class="o" cx="202.87" cy="173.83" r="2.0"/>
<circle class="o" cx="206.10" cy="168.90" r="2.0"/>
<circle class="o" cx="209.33" cy="163.98" r="2.0"/>
<circle class="o" cx="205.24" cy="159.08" r="2.0"/>
<circle class="o" cx="208.79" cy="159.07" r="2.0"/>
<circle class="o" cx="212.34" cy="159.05" r="2.0"/>
<circle class="o" cx="208.11" cy="154.16" r="2.0"/>
<circle class="o" cx="215.32" cy="154.12" r="2.0"/>
<circle class="o" cx="211.52" cy="149.23" r="2.0"/>
<circle class="o" cx="219.37" cy="149.19" r="2.0"/>
<circle class="o" cx="219.22" cy="144.28" r="2.0"/>
<circle class="o" cx="223.63" cy="144.26" r="2.0"/>
<circle class="o" cx="225.10" cy="139.34" r="2.0"/>
<circle class="o" cx="225.99" cy="134.42" r="2.0"/>
<circle class="o" cx="229.72" cy="134.41" r="2.0"/>
<circle class="o" cx="233.50" cy="129.48" r="2.0"/>
<circle class="o" cx="241.32" cy="119.62" r="2.0"/>
<circle class="o" cx="239.61" cy="114.71" r="2.0"/>
<circle class="o" cx="252.75" cy="114.65" r="2.0"/>
<circle class="o" cx="245.32" cy="109.77" r="2.0"/>
<circle class="o" cx="261.22" cy="104.79" r="2.0"/>
<circle class="o" cx="268.36" cy="104.76" r="2.0"/>
<circle class="o" cx="369.70" cy="99.39" r="2.0"/>
<circle class="o" cx="366.20" cy="99.40" r="2.0"/>
<circle class="o" cx="258.44" cy="104.80" r="2.0"/>
<circle class="o" cx="262.33" cy="104.78" r="2.0"/>
<circle class="o" cx="392.57" cy="168.07" r="2.0"/>
<circle class="o" cx="403.39" cy="168.02" r="2.0"/>
<circle class="o" cx="400.63" cy="158.20" r="2.0"/>
<circle class="o" cx="389.22" cy="143.52" r="2.0"/>
<circle class="o" cx="393.30" cy="128.76" r="2.0"/>
<circle class="o" cx="390.38" cy="123.86" r="2.0"/>
<circle class="o" cx="386.30" cy="118.96" r="2.0"/>
<circle class="o" cx="367.44" cy="114.14" r="2.0"/>
<circle class="o" cx="382.12" cy="114.07" r="2.0"/>
<circle class="o" cx="374.18" cy="109.19" r="2.0"/>
<circle class="o" cx="377.98" cy="109.18" r="2.0"/>
<circle class="o" cx="357.03" cy="104.36" r="2.0"/>
<circle class="o" cx="371.62" cy="104.29" r="2.0"/>
<circle class="o" cx="375.27" cy="104.27" r="2.0"/>
<circle class="o" cx="305.80" cy="104.70" r="2.0"/>
<circle class="o" cx="312.20" cy="104.70" r="2.0"/>
<circle class="o" cx="312.20" cy="113.80" r="2.0"/>
<circle class="o" cx="379.60" cy="216.50" r="2.0"/>
<circle class="o" cx="398.20" cy="178.00" r="2.0"/>
<circle class="o" cx="419.90" cy="178.00" r="2.0"/>
<circle class="o" cx="407.20" cy="182.60" r="2.0"/>
<circle class="o" cx="415.70" cy="182.60" r="2.0"/>
<circle class="o" cx="423.60" cy="182.60" r="2.0"/>
<circle class="o" cx="419.90" cy="187.50" r="2.0"/>
<circle class="o" cx="411.50" cy="192.00" r="2.0"/>
<circle class="o" cx="411.50" cy="196.80" r="2.0"/>
<circle class="o" cx="415.30" cy="211.80" r="2.0"/>
<circle class="o" cx="432.40" cy="211.80" r="2.0"/>
<circle class="o" cx="415.30" cy="217.00" r="2.0"/>
<circle class="o" cx="419.40" cy="217.00" r="2.0"/>
<circle class="o" cx="415.30" cy="222.00" r="2.0"/>
<circle class="o" cx="419.90" cy="222.00" r="2.0"/>
<circle class="o" cx="437.00" cy="222.00" r="2.0"/>
<circle class="o" cx="423.50" cy="226.40" r="2.0"/>
<circle class="o" cx="419.60" cy="231.40" r="2.0"/>
<circle class="o" cx="420.30" cy="241.00" r="2.0"/>
<circle class="o" cx="424.60" cy="241.00" r="2.0"/>
<circle class="o" cx="428.80" cy="241.00" r="2.0"/>
<circle class="o" cx="436.70" cy="241.00" r="2.0"/>
<circle class="o" cx="423.50" cy="246.20" r="2.0"/>
<circle class="o" cx="428.80" cy="250.90" r="2.0"/>
<circle class="o" cx="419.10" cy="256.00" r="2.0"/>
<circle class="o" cx="445.50" cy="261.00" r="2.0"/>
<circle class="o" cx="432.50" cy="265.70" r="2.0"/>
<circle class="o" cx="441.20" cy="265.70" r="2.0"/>
<circle class="o" cx="449.70" cy="265.70" r="2.0"/>
<circle class="o" cx="441.20" cy="270.80" r="2.0"/>
<circle class="o" cx="428.00" cy="275.50" r="2.0"/>
<circle class="o" cx="432.70" cy="275.50" r="2.0"/>
<circle class="o" cx="436.60" cy="280.30" r="2.0"/>
<circle class="o" cx="445.90" cy="280.30" r="2.0"/>
<circle class="o" cx="454.10" cy="280.30" r="2.0"/>
<circle class="o" cx="458.30" cy="280.30" r="2.0"/>
<circle class="o" cx="462.60" cy="280.30" r="2.0"/>
<circle class="o" cx="445.60" cy="285.20" r="2.0"/>
<circle class="o" cx="441.40" cy="290.50" r="2.0"/>
<circle class="o" cx="458.30" cy="290.50" r="2.0"/>
</g>
<text x="98.6" y="68.7" font-family="Liberation Sans, Arial, Helvetica, sans-serif" font-weight="bold" font-size="20.3" letter-spacing="3.6">DI</text>
<text x="122.6" y="77.0" font-family="Liberation Sans, Arial, Helvetica, sans-serif" font-weight="bold" font-size="12.2" letter-spacing="2.1" stroke="#000" stroke-width="0.35">max</text>
<path d="M104.5 90.6H212.7" stroke="#8a8a8a" stroke-width="1.3"/>
<path d="M96.2 90.9L107.4 87.1L104.2 90.8L107.4 94.7Z" fill="#000"/>
<text x="158.2" y="293.0" font-family="Liberation Sans, Arial, Helvetica, sans-serif" font-weight="bold" font-size="20.8">O</text>
<text x="175.2" y="301.4" font-family="Liberation Sans, Arial, Helvetica, sans-serif" font-weight="bold" font-size="12" letter-spacing="2.3" stroke="#000" stroke-width="0.35">min</text>
<path d="M143.8 285.4V298" stroke="#8a8a8a" stroke-width="1.3"/>
<path d="M143.8 305.4L139.5 293.8L143.8 297.2L148.2 293.8Z" fill="#000"/>
<text x="339.8" y="289.8" font-family="Liberation Sans, Arial, Helvetica, sans-serif" font-weight="bold" font-size="20.8">O</text>
<text x="356.4" y="298.0" font-family="Liberation Sans, Arial, Helvetica, sans-serif" font-weight="bold" font-size="12.4" letter-spacing="2.1" stroke="#000" stroke-width="0.35">hyp</text>
<path d="M390.5 225.8V287" stroke="#8a8a8a" stroke-width="1.3"/>
<path d="M390.6 293.3L386.0 281.6L390.6 285.3L395.1 281.6Z" fill="#000"/>
</svg>
</body></html>
